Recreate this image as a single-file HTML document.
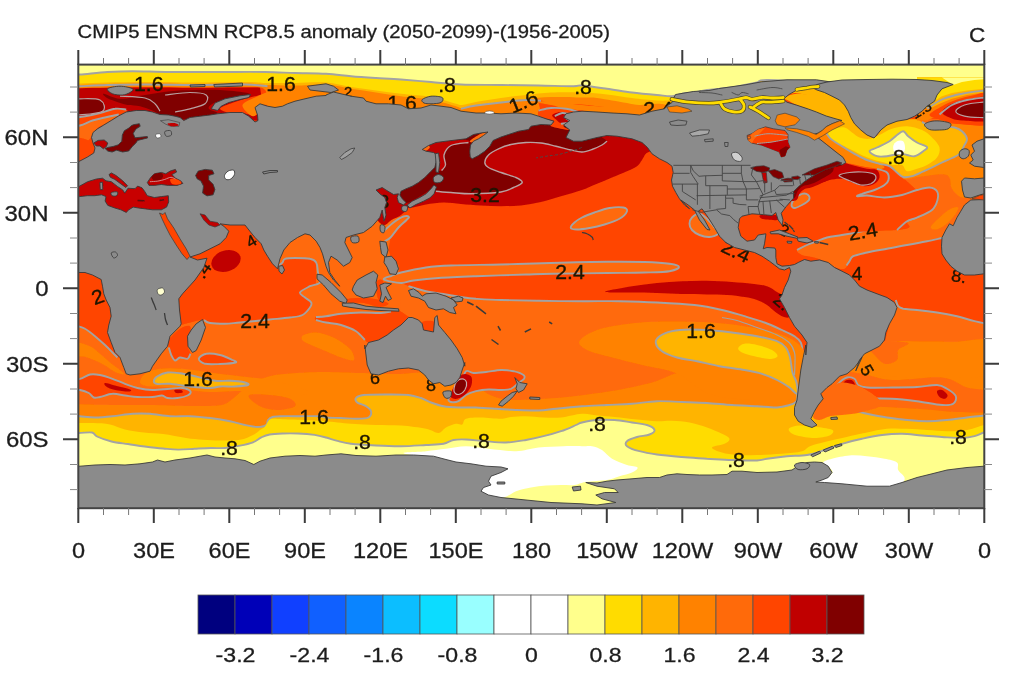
<!DOCTYPE html>
<html><head><meta charset="utf-8"><title>CMIP5 anomaly</title>
<style>html,body{margin:0;padding:0;background:#fff}svg{display:block}</style></head>
<body><svg width="1023" height="683" viewBox="0 0 1023 683">
<rect width="1023" height="683" fill="#fff"/>
<defs><filter id="bl" x="0" y="0" width="1023" height="683" filterUnits="userSpaceOnUse"><feGaussianBlur stdDeviation="0.55"/></filter><filter id="bt" x="0" y="0" width="1023" height="683" filterUnits="userSpaceOnUse"><feGaussianBlur stdDeviation="0.35"/></filter><clipPath id="mc"><rect x="78" y="65" width="906" height="443"/></clipPath></defs>
<g clip-path="url(#mc)"><g filter="url(#bl)"><rect x="70" y="60" width="920" height="455" fill="#ff4500"/>
<path d="M895.8 300 L898.2 306.2 L903.2 308.8 L917 310 L937 312.5 L957 316.2 L974.5 321.2 L992 325 L995 515 L880 515 L880 360Z" fill="#ff6a0a"/>
<path d="M70 325C71.3 325.2 75.5 325.6 78 326.2C80.5 326.9 82.2 327.1 85 328.8C87.8 330.4 91.7 333.5 95 336.2C98.3 339 102.1 342.3 105 345C107.9 347.7 110.4 350.4 112.5 352.5C114.6 354.6 116.7 356.7 117.5 357.5L155 360 L155 515 L60 515Z" fill="#ff6a0a"/>
<path d="M181.2 325C183.5 324.4 191.2 322.1 195 321.2C198.8 320.4 201.2 319.7 203.8 320C206.2 320.3 206.5 322.4 210 323C213.5 323.6 220 323.8 225 323.8C230 323.7 232.5 323.2 240 322.5C247.5 321.8 261.7 320.3 270 319.5C278.3 318.7 284.6 318.2 290 317.5C295.4 316.8 299.2 316.7 302.5 315C305.8 313.3 308.5 309.6 310 307.5C311.5 305.4 312.1 304.2 311.2 302.5C310.4 300.8 306.9 299.2 305 297.5C303.1 295.8 299.2 294.4 300 292.5C300.8 290.6 306.7 287.9 310 286.2C313.3 284.6 318.7 284.8 320 282.5C321.3 280.2 318.6 275.8 318 272.5C317.4 269.2 317.6 264.8 316.2 262.5C314.9 260.2 313.5 259.5 310 258.8C306.5 258 299.2 258 295 258C290.8 258 287.1 258 285 258.8C282.9 259.5 283.5 261.4 282.5 262.5C281.5 263.6 279.4 265 278.8 265.5L280 225 L340 225 L345 250 L380 285 L405 300 L405 515 L150 515 L150 340Z" fill="#ff6a0a"/>
<path d="M316 215 L376 217.5 L408.5 217 L406.5 220 L398.5 227.5 L390.5 237.5 L388.5 250 L391.5 258.8 L398.5 265 L400 275 L386 279.5 L401 283 L408.5 286.2 L426 291.2 L446 294.5 L461 297 L461 317.5 L316 317.5Z" fill="#ff6a0a"/>
<path d="M384.8 241.2C385.7 240.6 388.2 239.8 390.5 237.5C392.8 235.2 395.8 230.4 398.5 227.5C401.2 224.6 404.8 221.8 406.5 220C408.2 218.2 409.5 217.6 409 217C408.5 216.4 406.1 215.6 403.5 216.5C400.9 217.4 396.8 220 393.5 222.5C390.2 225 385.2 229.8 383.5 231.2" fill="none" stroke="#a3a3a3" stroke-width="1.9" stroke-linejoin="round"/>
<path d="M401 282.5C402.2 283.1 404.3 284.8 408.5 286.2C412.7 287.7 419.8 289.9 426 291.2C432.2 292.6 440.2 293.5 446 294.5C451.8 295.5 456 296.3 461 297C466 297.7 469.3 298.2 476 298.8C482.7 299.2 490.6 299.7 501 300C511.4 300.3 525 300.5 538.5 300.8C552 301 568.5 301.2 582 301.2C595.5 301.3 607 301 619.5 301.2C632 301.5 644.5 301.9 657 302.5C669.5 303.1 683.7 303.8 694.5 305C705.3 306.2 713.7 308.1 722 310C730.3 311.9 737.4 314.2 744.5 316.2C751.6 318.3 758.2 320.2 764.5 322.5C770.8 324.8 777 327.7 782 330C787 332.3 791.4 334.2 794.5 336.2C797.6 338.3 799.4 339.8 800.8 342.5C802.1 345.2 802.4 349.2 802.5 352.5C802.6 355.8 801.6 358.8 801.5 362.5C801.4 366.2 801.9 372.9 802 375L830 515 L400 515Z" fill="#ff6a0a"/>
<path d="M408.5 286.2C411.4 287.1 419.8 289.9 426 291.2C432.2 292.6 440.2 293.5 446 294.5C451.8 295.5 456 296.3 461 297C466 297.7 469.3 298.2 476 298.8C482.7 299.2 490.6 299.7 501 300C511.4 300.3 525 300.5 538.5 300.8C552 301 568.5 301.2 582 301.2C595.5 301.3 607 301 619.5 301.2C632 301.5 644.5 301.9 657 302.5C669.5 303.1 683.7 303.8 694.5 305C705.3 306.2 713.7 308.1 722 310C730.3 311.9 737.4 314.2 744.5 316.2C751.6 318.3 758.2 320.2 764.5 322.5C770.8 324.8 777 327.7 782 330C787 332.3 791.4 334.2 794.5 336.2C797.6 338.3 799.4 339.8 800.8 342.5C802.1 345.2 802.4 349.2 802.5 352.5C802.6 355.8 801.6 358.8 801.5 362.5C801.4 366.2 801.9 372.9 802 375" fill="none" stroke="#a3a3a3" stroke-width="1.9" stroke-linejoin="round"/>
<path d="M203.8 320C204.8 320.5 206.5 322.4 210 323C213.5 323.6 220 323.8 225 323.8C230 323.7 232.5 323.2 240 322.5C247.5 321.8 261.7 320.3 270 319.5C278.3 318.7 284.6 318.2 290 317.5C295.4 316.8 299.2 316.7 302.5 315C305.8 313.3 308.5 309.6 310 307.5C311.5 305.4 312.1 304.2 311.2 302.5C310.4 300.8 306.9 299.2 305 297.5C303.1 295.8 299.2 294.4 300 292.5C300.8 290.6 306.7 287.9 310 286.2C313.3 284.6 318.7 284.8 320 282.5C321.3 280.2 318.6 275.8 318 272.5C317.4 269.2 317.6 264.8 316.2 262.5C314.9 260.2 313.5 259.5 310 258.8C306.5 258 299.2 258 295 258C290.8 258 287.1 258 285 258.8C282.9 259.5 283.5 261.4 282.5 262.5C281.5 263.6 279.4 265 278.8 265.5" fill="none" stroke="#a3a3a3" stroke-width="1.9" stroke-linejoin="round"/>
<path d="M895.8 300C896.2 301 897 304.8 898.2 306.2C899.5 307.7 900.1 308.1 903.2 308.8C906.4 309.4 911.4 309.4 917 310C922.6 310.6 930.3 311.5 937 312.5C943.7 313.5 950.8 314.8 957 316.2C963.2 317.7 968.7 319.8 974.5 321.2C980.3 322.7 989.1 324.4 992 325" fill="none" stroke="#a3a3a3" stroke-width="1.9" stroke-linejoin="round"/>
<path d="M70 325C71.3 325.2 75.5 325.6 78 326.2C80.5 326.9 82.2 327.1 85 328.8C87.8 330.4 91.7 333.5 95 336.2C98.3 339 102.1 342.3 105 345C107.9 347.7 110.4 350.4 112.5 352.5C114.6 354.6 116.7 356.7 117.5 357.5" fill="none" stroke="#a3a3a3" stroke-width="1.9" stroke-linejoin="round"/>
<path d="M384 279.5C382.4 278.3 388.7 276.9 391.5 275.8C394.3 274.6 395.2 273.9 401 272.5C406.8 271.1 417.7 268.7 426 267.5C434.3 266.3 438.5 266 451 265.5C463.5 265 484.3 264.9 501 264.5C517.7 264.1 533.3 263.5 551 263C568.7 262.5 591.4 261.9 607 261.8C622.6 261.6 634.1 261.7 644.5 262C654.9 262.3 663.8 262.9 669.5 263.8C675.2 264.6 679 265.8 679 267C679 268.2 675.2 270.3 669.5 271.2C663.8 272.2 654.9 272.2 644.5 272.5C634.1 272.8 622.4 272.8 607 273C591.6 273.2 565.8 273.5 552.2 273.8C538.8 274 538.7 274.1 526 274.5C513.3 274.9 490.6 275.7 476 276.2C461.4 276.8 448.9 277.3 438.5 278C428.1 278.7 419.8 279.7 413.5 280.5C407.2 281.3 405.9 283.2 401 283C396.1 282.8 385.6 280.7 384 279.5Z" fill="#ff6a0a"/>
<path d="M384 279.5C382.4 278.3 388.7 276.9 391.5 275.8C394.3 274.6 395.2 273.9 401 272.5C406.8 271.1 417.7 268.7 426 267.5C434.3 266.3 438.5 266 451 265.5C463.5 265 484.3 264.9 501 264.5C517.7 264.1 533.3 263.5 551 263C568.7 262.5 591.4 261.9 607 261.8C622.6 261.6 634.1 261.7 644.5 262C654.9 262.3 663.8 262.9 669.5 263.8C675.2 264.6 679 265.8 679 267C679 268.2 675.2 270.3 669.5 271.2C663.8 272.2 654.9 272.2 644.5 272.5C634.1 272.8 622.4 272.8 607 273C591.6 273.2 565.8 273.5 552.2 273.8C538.8 274 538.7 274.1 526 274.5C513.3 274.9 490.6 275.7 476 276.2C461.4 276.8 448.9 277.3 438.5 278C428.1 278.7 419.8 279.7 413.5 280.5C407.2 281.3 405.9 283.2 401 283C396.1 282.8 385.6 280.7 384 279.5Z" fill="none" stroke="#a3a3a3" stroke-width="1.9" stroke-linejoin="round"/>
<path d="M605.8 291.2C608.7 290.2 623.5 287.6 632 286.2C640.5 284.9 648.7 283.8 657 283C665.3 282.2 673.7 281.6 682 281.2C690.3 280.9 698.7 280.6 707 280.8C715.3 280.9 724.5 281.5 732 282C739.5 282.5 746.2 283 752 283.8C757.8 284.5 762.8 284.9 767 286.2C771.2 287.6 774.5 290.5 777 292C779.5 293.5 781.5 293.9 782 295C782.5 296.1 779.6 296.7 780 298.8C780.4 300.8 783 304.5 784.5 307.5C786 310.5 789.4 315.5 789 317C788.6 318.5 784.4 317.2 782 316.2C779.6 315.3 777 313.1 774.5 311.2C772 309.4 769.9 306.9 767 305C764.1 303.1 760.8 301.3 757 300C753.2 298.7 749.5 297.8 744.5 297C739.5 296.2 733.2 295.4 727 295C720.8 294.6 714.5 294.7 707 294.5C699.5 294.3 690.3 294.2 682 294C673.7 293.8 665.3 293.2 657 293C648.7 292.8 639.1 292.6 632 292.5C624.9 292.4 618.9 292.7 614.5 292.5C610.1 292.3 602.8 292.3 605.8 291.2Z" fill="#c00000"/>
<path d="M582 217.5C585.3 215.8 589.9 214.1 594.5 212.5C599.1 210.9 604.7 208.8 609.5 208C614.3 207.2 620.3 207 623.2 207.5C626.2 208 627.6 209.4 627 211.2C626.4 213.1 623.2 216.5 619.5 218.8C615.8 221 609.5 223 604.5 224.5C599.5 226 594.1 227.2 589.5 228C584.9 228.8 580.1 229.5 577 229.5C573.9 229.5 571.2 229.2 570.8 228C570.3 226.8 572.6 224.2 574.5 222.5C576.4 220.8 578.7 219.2 582 217.5Z" fill="#ff6a0a"/>
<path d="M582 217.5C585.3 215.8 589.9 214.1 594.5 212.5C599.1 210.9 604.7 208.8 609.5 208C614.3 207.2 620.3 207 623.2 207.5C626.2 208 627.6 209.4 627 211.2C626.4 213.1 623.2 216.5 619.5 218.8C615.8 221 609.5 223 604.5 224.5C599.5 226 594.1 227.2 589.5 228C584.9 228.8 580.1 229.5 577 229.5C573.9 229.5 571.2 229.2 570.8 228C570.3 226.8 572.6 224.2 574.5 222.5C576.4 220.8 578.7 219.2 582 217.5Z" fill="none" stroke="#a3a3a3" stroke-width="1.9" stroke-linejoin="round"/>
<path d="M689.5 223.8C689.5 221.7 690.3 219.2 692 217.5C693.7 215.8 697 213.5 699.5 213.8C702 214 704.5 216.5 707 218.8C709.5 221 712.6 225 714.5 227.5C716.4 230 719.1 232.2 718.2 233.8C717.4 235.3 712.6 236.8 709.5 237C706.4 237.2 702.4 236.2 699.5 235C696.6 233.8 693.7 231.9 692 230C690.3 228.1 689.5 225.8 689.5 223.8Z" fill="#ff6a0a"/>
<path d="M689.5 223.8C689.5 221.7 690.3 219.2 692 217.5C693.7 215.8 697 213.5 699.5 213.8C702 214 704.5 216.5 707 218.8C709.5 221 712.6 225 714.5 227.5C716.4 230 719.1 232.2 718.2 233.8C717.4 235.3 712.6 236.8 709.5 237C706.4 237.2 702.4 236.2 699.5 235C696.6 233.8 693.7 231.9 692 230C690.3 228.1 689.5 225.8 689.5 223.8Z" fill="none" stroke="#a3a3a3" stroke-width="1.9" stroke-linejoin="round"/>
<path d="M797 250C797.8 248.3 803.7 246.5 807 245C810.3 243.5 813.7 242.5 817 241.2C820.3 240 822.8 238.5 827 237.5C831.2 236.5 836.2 236 842 235C847.8 234 854.9 232.7 862 231.2C869.1 229.8 877.8 227.7 884.5 226.2C891.2 224.8 896.6 224 902 222.5C907.4 221 912.4 219.6 917 217.5C921.6 215.4 926.4 212.5 929.5 210C932.6 207.5 934.3 205.8 935.8 202.5C937.2 199.2 928.9 192.1 938.2 190C947.6 187.9 983 182.1 992 190C1001 197.9 1000.3 229.5 992 237.5C983.7 245.5 952.8 237.4 942 238C931.2 238.6 932.8 240.1 927 241.2C921.2 242.4 913.7 243.8 907 245C900.3 246.2 893.7 247.5 887 248.8C880.3 250 872.6 251.2 867 252.5C861.4 253.8 856.2 254.8 853.2 256.2C850.3 257.7 851 259.2 849.5 261.2C848 263.3 847 267.8 844.5 268.8C842 269.7 837.8 268.2 834.5 267C831.2 265.8 828.2 262.9 824.5 261.2C820.8 259.6 815.8 258 812 257C808.2 256 804.5 256.2 802 255C799.5 253.8 796.2 251.7 797 250Z" fill="#ff6a0a"/>
<path d="M797 250C798.7 249.2 803.7 246.5 807 245C810.3 243.5 813.7 242.5 817 241.2C820.3 240 822.8 238.5 827 237.5C831.2 236.5 836.2 236 842 235C847.8 234 854.9 232.7 862 231.2C869.1 229.8 877.8 227.7 884.5 226.2C891.2 224.8 896.6 224 902 222.5C907.4 221 912.4 219.6 917 217.5C921.6 215.4 926.4 212.5 929.5 210C932.6 207.5 934.3 205.8 935.8 202.5C937.2 199.2 937.8 192.1 938.2 190" fill="none" stroke="#a3a3a3" stroke-width="1.9" stroke-linejoin="round"/>
<path d="M942 238C939.5 238.5 932.8 240.1 927 241.2C921.2 242.4 913.7 243.8 907 245C900.3 246.2 893.7 247.5 887 248.8C880.3 250 872.6 251.2 867 252.5C861.4 253.8 856.2 254.8 853.2 256.2C850.3 257.7 850.6 259.7 849.5 261.2C848.4 262.8 847 264.8 846.5 265.5" fill="none" stroke="#a3a3a3" stroke-width="1.9" stroke-linejoin="round"/>
<path d="M930.8 227C931.2 225 936.2 220.5 939.5 217.5C942.8 214.5 947.6 210.4 950.8 208.8C953.9 207.1 957.6 206.4 958.2 207.5C958.9 208.6 956.6 212.7 954.5 215.5C952.4 218.3 948.8 222.2 945.8 224.5C942.8 226.8 939 229.1 936.5 229.5C934 229.9 930.2 229 930.8 227Z" fill="#ff8200"/>
<ellipse cx="226" cy="261" rx="15" ry="10.5" transform="rotate(-18 226 261)" fill="#c00000"/>
<path d="M168.8 340C170.6 336.9 176.5 331 180 328.8C183.5 326.5 188.3 325 190 326.2C191.7 327.5 190.3 332.9 190 336.2C189.7 339.6 187.9 343.3 188 346.2C188.1 349.2 190.6 351.7 190.5 353.8C190.4 355.8 189.2 358.1 187.5 358.8C185.8 359.4 182.1 357.2 180 357.5C177.9 357.8 176.5 360.9 175 360.5C173.5 360.1 172.3 357.2 171.2 355C170.2 352.8 169.2 350 168.8 347.5C168.3 345 166.9 343.1 168.8 340Z" fill="#ff4500"/>
<path d="M190.5 353.8C190 354.6 189.2 358.1 187.5 358.8C185.8 359.4 182.1 357.2 180 357.5C177.9 357.8 176.5 360.9 175 360.5C173.5 360.1 172.3 357.2 171.2 355C170.2 352.8 169.2 348.8 168.8 347.5" fill="none" stroke="#a3a3a3" stroke-width="1.9" stroke-linejoin="round"/>
<path d="M198.8 358.8C199 357.1 202.7 354.4 206.2 353.8C209.8 353.1 215.6 354 220 355C224.4 356 229.9 358.8 232.5 360C235.1 361.2 237.6 361.8 235.5 362.5C233.4 363.2 225.1 363.8 220 364C214.9 364.2 208.5 364.6 205 363.8C201.5 362.9 198.5 360.4 198.8 358.8Z" fill="#ff4500"/>
<path d="M198.8 358.8C199 357.1 202.7 354.4 206.2 353.8C209.8 353.1 215.6 354 220 355C224.4 356 229.9 358.8 232.5 360C235.1 361.2 237.6 361.8 235.5 362.5C233.4 363.2 225.1 363.8 220 364C214.9 364.2 208.5 364.6 205 363.8C201.5 362.9 198.5 360.4 198.8 358.8Z" fill="none" stroke="#a3a3a3" stroke-width="1.9" stroke-linejoin="round"/>
<path d="M316 317C317.7 316.4 321.8 316.8 326 316.2C330.2 315.7 335.2 314.4 341 313.8C346.8 313.1 354.3 312.6 361 312.5C367.7 312.4 375.2 313.4 381 313C386.8 312.6 391.8 309.7 396 310C400.2 310.3 403.7 313.4 406 315C408.3 316.6 410.6 317.6 409.8 319.5C408.9 321.4 403.7 324.3 401 326.2C398.3 328.2 395.8 329.6 393.5 331.2C391.2 332.9 389.8 334.7 387.2 336.2C384.8 337.8 381.6 339.5 378.5 340.5C375.4 341.5 370.8 342.7 368.5 342.5C366.2 342.3 366.8 341.4 364.8 339.5C362.7 337.6 360 333.7 356 331.2C352 328.8 346 326.5 341 325C336 323.5 330.2 323.3 326 322.5C321.8 321.7 317.7 320.9 316 320C314.3 319.1 314.3 317.6 316 317Z" fill="#ff4500"/>
<path d="M316 317C317.7 316.9 321.8 316.8 326 316.2C330.2 315.7 335.2 314.4 341 313.8C346.8 313.1 354.3 312.6 361 312.5C367.7 312.4 376 313.2 381 313C386 312.8 389.3 311.8 391 311.5" fill="none" stroke="#a3a3a3" stroke-width="1.9" stroke-linejoin="round"/>
<path d="M316 320C317.7 320.4 321.8 321.7 326 322.5C330.2 323.3 336 323.5 341 325C346 326.5 352 328.8 356 331.2C360 333.8 363.3 338.5 364.8 340" fill="none" stroke="#a3a3a3" stroke-width="1.9" stroke-linejoin="round"/>
<path d="M422.2 322C424.3 320.5 432.8 320.3 434.8 322C436.7 323.7 436.1 330.5 434 332C431.9 333.5 424.2 332.9 422.2 331.2C420.3 329.6 420.2 323.5 422.2 322Z" fill="#ff4500"/>
<path d="M347.2 298.8C350.2 298 360.6 297.8 366 298C371.4 298.2 376 299 379.8 300C383.5 301 388.5 302.6 388.5 303.8C388.5 304.9 383.9 307.1 379.8 307C375.6 306.9 368.7 303.8 363.5 303C358.3 302.2 351.2 303.2 348.5 302.5C345.8 301.8 344.3 299.5 347.2 298.8Z" fill="#ff4500"/>
<path d="M376 282.5C376.7 279.4 380.7 278.8 382.2 280C383.8 281.2 385.2 286.7 385.5 290C385.8 293.3 385.2 298.5 384 300C382.8 301.5 379.3 301.7 378 298.8C376.7 295.8 375.3 285.6 376 282.5Z" fill="#ff4500"/>
<path d="M303.5 335C305.8 333.8 311 332.1 316 332.5C321 332.9 328.1 335 333.5 337.5C338.9 340 345.2 344.6 348.5 347.5C351.8 350.4 352.8 352.8 353.5 355C354.2 357.2 355.1 360.1 353 360.5C350.9 360.9 345.5 359 341 357.5C336.5 356 331 353.3 326 351.2C321 349.2 315 346.9 311 345C307 343.1 303.5 341.7 302.2 340C301 338.3 301.2 336.2 303.5 335Z" fill="#ff8200"/>
<path d="M60 404C66.7 404.1 98 404.9 110 405C122 405.1 139.3 404.9 150 405C160.7 405.1 180.4 406 190 406C199.6 406 215.9 406.3 222 405C228.1 403.7 232.3 398.8 236 396C239.7 393.2 244.8 386.8 250 384C255.2 381.2 265.7 376.6 275 375C284.3 373.4 308.7 372.3 320 372C331.3 371.7 349.3 372.7 360 373C370.7 373.3 389.3 374.1 400 374C410.7 373.9 430 370.5 440 372C450 373.5 468.3 381.9 475 385C481.7 388.1 485.1 393 490 395C494.9 397 502.4 399.7 512 400C521.6 400.3 548.7 398.7 562 397.5C575.3 396.3 600 393 612 391C624 389 643.3 384.9 652 382.5C660.7 380.1 670.6 374.5 677 373C683.4 371.5 690.3 370.9 700 371C709.7 371.1 736.7 372.8 750 374C763.3 375.2 792.3 376.5 800 380C807.7 383.5 806 396.7 808 400C810 403.3 812.1 405 815 405C817.9 405 827.2 407.1 830 400C832.8 392.9 829.3 359.7 836 352C842.7 344.3 859.5 343.3 880 342C900.5 340.7 975.3 342 990 342L990 515 L60 515 Z" fill="#ff8200"/>
<path d="M75 342.5C77.5 341 85.8 344.4 90 346.2C94.2 348.1 96.7 351 100 353.8C103.3 356.5 106.7 359.8 110 362.5C113.3 365.2 117.6 368 120 370C122.4 372 125.3 374.2 124.5 374.5C123.7 374.8 118.2 373.5 115 372C111.8 370.5 108.3 367.4 105 365.5C101.7 363.6 98.3 362 95 360.5C91.7 359 88.3 357.7 85 356.8C81.7 355.8 76.7 357.4 75 355C73.3 352.6 72.5 344 75 342.5Z" fill="#ff8200"/>
<path d="M140 382.5C139.6 380.4 141.7 376 145 373.8C148.3 371.5 153.8 369.6 160 368.8C166.2 367.9 174.2 368.1 182.5 368.8C190.8 369.4 200.4 371.2 210 372.5C219.6 373.8 230 375 240 376.2C250 377.5 260.8 378.3 270 380C279.2 381.7 288.3 384.2 295 386.2C301.7 388.3 310 391 310 392.5C310 394 301.7 395.5 295 395.5C288.3 395.5 277.5 393.2 270 392.5C262.5 391.8 256.7 391.5 250 391.2C243.3 391 236.7 391.1 230 391.2C223.3 391.4 217.1 392.2 210 392C202.9 391.8 195 390.8 187.5 390C180 389.2 171.7 387.6 165 387C158.3 386.4 151.7 387 147.5 386.2C143.3 385.5 140.4 384.6 140 382.5Z" fill="#ff8200"/>
<path d="M897 343C898.9 340.7 901.6 341.3 907 341.2C912.4 341.2 921.6 342.4 929.5 342.5C937.4 342.6 944.1 342.2 954.5 342C964.9 341.8 985.8 335.8 992 341.2C998.2 346.8 1012.8 369.4 992 375C971.2 380.6 886.8 376.9 867 375C847.2 373.1 869.9 366.2 873.2 363.8C876.6 361.2 883.2 361.5 887 360C890.8 358.5 894.1 357.8 895.8 355C897.4 352.2 895.1 345.3 897 343Z" fill="#ff8200"/>
<path d="M862 342.5C856.2 344.2 868.2 349 872 352.5C875.8 356 880.3 362.5 884.5 363.8C888.7 365 894.7 362.3 897 360C899.3 357.7 896.6 352.9 898.2 350C899.9 347.1 913 343.8 907 342.5C901 341.2 867.8 340.8 862 342.5Z" fill="#ff6a0a"/>
<path d="M579.5 341C581.2 337.7 589.1 332.8 597 330C604.9 327.2 616.2 325.4 627 324C637.8 322.6 647.8 321.8 662 321.5C676.2 321.2 697 321.5 712 322.5C727 323.5 740.3 325.4 752 327.5C763.7 329.6 774.1 332.1 782 335C789.9 337.9 795.3 340.8 799.5 345C803.7 349.2 806.2 354.2 807 360C807.8 365.8 805.8 373.8 804.5 380C803.2 386.2 804.9 394.2 799.5 397.5C794.1 400.8 782.4 399.8 772 400C761.6 400.2 747.8 400.2 737 399C726.2 397.8 717 397.2 707 393C697 388.8 687.8 378.2 677 373.5C666.2 368.8 652.8 367.7 642 365C631.2 362.3 621.2 360 612 357.5C602.8 355 592.4 352.8 587 350C581.6 347.2 577.8 344.3 579.5 341Z" fill="#ff8200"/>
<path d="M722 317.5C724.5 318 731.2 318.8 737 320.5C742.8 322.2 750.3 325.1 757 327.5C763.7 329.9 771.6 332.4 777 335C782.4 337.6 786.6 340.1 789.5 343C792.4 345.9 793.6 349.2 794.5 352.5C795.4 355.8 795 358.8 795 362.5C795 366.2 794.6 372.9 794.5 375" fill="none" stroke="#a3a3a3" stroke-width="1.2" stroke-linejoin="round"/>
<path d="M67.5 415.5C69.6 415.6 75.4 415.9 80 416.2C84.6 416.6 89.6 417.5 95 417.5C100.4 417.5 106.2 416.9 112.5 416.2C118.8 415.6 126.2 414.2 132.5 413.8C138.8 413.3 143.8 413.3 150 413.8C156.2 414.2 163.3 415.8 170 416.2C176.7 416.7 183.3 416 190 416.2C196.7 416.5 203.3 417.2 210 418C216.7 418.8 224.2 420.1 230 421.2C235.8 422.4 240.4 424 245 425C249.6 426 254 427 257.5 427C261 427 264.5 426.2 266.2 425C268 423.8 267 421.3 268 420C269 418.7 270.1 417.6 272.5 417C274.9 416.4 277.9 416.4 282.5 416.2C287.1 416.1 293.8 416.2 300 416.2C306.2 416.2 315.7 416 320 416.2C324.3 416.5 322.5 417.2 326 417.5C329.5 417.8 336 417.8 341 418C346 418.2 351.4 418.8 356 418.8C360.6 418.7 366 418.8 368.5 417.5C371 416.2 371.4 413.1 371 411.2C370.6 409.4 368.3 407.7 366 406.2C363.7 404.8 358.9 403.9 357.2 402.5C355.6 401.1 355 399.2 356 398C357 396.8 358.1 395.6 363.5 395C368.9 394.4 381 394.5 388.5 394.5C396 394.5 403.1 394.4 408.5 395C413.9 395.6 417.2 396.8 421 398C424.8 399.2 427.2 401.1 431 402.5C434.8 403.9 438.9 405.4 443.5 406.2C448.1 407.1 453.1 407.3 458.5 407.5C463.9 407.7 469.8 407.3 476 407.5C482.2 407.7 489.3 408.3 496 408.8C502.7 409.2 508.9 409.7 516 410C523.1 410.3 531.8 410.7 538.5 410.5C545.2 410.3 548.8 409.5 556 408.8C563.2 408 573.5 406.9 582 406.2C590.5 405.6 598.7 405.4 607 405C615.3 404.6 623.7 404.4 632 403.8C640.3 403.1 648.7 401.5 657 401.2C665.3 401 673.7 401.7 682 402C690.3 402.3 698.7 402.5 707 403C715.3 403.5 723.7 404.5 732 405C740.3 405.5 749.5 405.8 757 406.2C764.5 406.7 771.6 407.7 777 407.5C782.4 407.3 786.2 406 789.5 405C792.8 404 795.2 403.3 796.5 401.2C797.8 399.2 794.9 392.7 797.5 392.5C800.1 392.3 809.2 396.8 812 400C814.8 403.2 812.4 409.3 814.5 412C816.6 414.7 821 415.8 824.5 416.2C828 416.7 833.2 415.8 835.8 414.5C838.2 413.2 837.2 409.6 839.5 408.8C841.8 407.9 844.9 408.7 849.5 409.5C854.1 410.3 860.8 412.4 867 413.8C873.2 415.1 880.3 416.5 887 417.5C893.7 418.5 900.3 419.4 907 420C913.7 420.6 920.3 421.2 927 421.2C933.7 421.2 940.3 420.6 947 420C953.7 419.4 960.8 418.2 967 417.5C973.2 416.8 979.8 415.9 984 415.5C988.2 415.1 990.7 415.1 992 415L992 515 L67.5 515 Z" fill="#ffb400"/>
<path d="M67.5 415.5C69.6 415.6 75.4 415.9 80 416.2C84.6 416.6 89.6 417.5 95 417.5C100.4 417.5 106.2 416.9 112.5 416.2C118.8 415.6 126.2 414.2 132.5 413.8C138.8 413.3 143.8 413.3 150 413.8C156.2 414.2 163.3 415.8 170 416.2C176.7 416.7 183.3 416 190 416.2C196.7 416.5 203.3 417.2 210 418C216.7 418.8 224.2 420.1 230 421.2C235.8 422.4 240.4 424 245 425C249.6 426 254 427 257.5 427C261 427 264.5 426.2 266.2 425C268 423.8 267 421.3 268 420C269 418.7 270.1 417.6 272.5 417C274.9 416.4 277.9 416.4 282.5 416.2C287.1 416.1 293.8 416.2 300 416.2C306.2 416.2 315.7 416 320 416.2C324.3 416.5 322.5 417.2 326 417.5C329.5 417.8 336 417.8 341 418C346 418.2 351.4 418.8 356 418.8C360.6 418.7 366 418.8 368.5 417.5C371 416.2 371.4 413.1 371 411.2C370.6 409.4 368.3 407.7 366 406.2C363.7 404.8 358.9 403.9 357.2 402.5C355.6 401.1 355 399.2 356 398C357 396.8 358.1 395.6 363.5 395C368.9 394.4 381 394.5 388.5 394.5C396 394.5 403.1 394.4 408.5 395C413.9 395.6 417.2 396.8 421 398C424.8 399.2 427.2 401.1 431 402.5C434.8 403.9 438.9 405.4 443.5 406.2C448.1 407.1 453.1 407.3 458.5 407.5C463.9 407.7 469.8 407.3 476 407.5C482.2 407.7 489.3 408.3 496 408.8C502.7 409.2 508.9 409.7 516 410C523.1 410.3 531.8 410.7 538.5 410.5C545.2 410.3 548.8 409.5 556 408.8C563.2 408 573.5 406.9 582 406.2C590.5 405.6 598.7 405.4 607 405C615.3 404.6 623.7 404.4 632 403.8C640.3 403.1 648.7 401.5 657 401.2C665.3 401 673.7 401.7 682 402C690.3 402.3 698.7 402.5 707 403C715.3 403.5 723.7 404.5 732 405C740.3 405.5 749.5 405.8 757 406.2C764.5 406.7 771.6 407.7 777 407.5C782.4 407.3 786.2 406 789.5 405C792.8 404 795.2 403.3 796.5 401.2C797.8 399.2 797.3 394 797.5 392.5" fill="none" stroke="#a3a3a3" stroke-width="1.9" stroke-linejoin="round"/>
<path d="M835.8 414.5C836.4 413.5 837.2 409.6 839.5 408.8C841.8 407.9 844.9 408.7 849.5 409.5C854.1 410.3 860.8 412.4 867 413.8C873.2 415.1 880.3 416.5 887 417.5C893.7 418.5 900.3 419.4 907 420C913.7 420.6 920.3 421.2 927 421.2C933.7 421.2 940.3 420.6 947 420C953.7 419.4 960.8 418.2 967 417.5C973.2 416.8 979.8 415.9 984 415.5C988.2 415.1 990.7 415.1 992 415" fill="none" stroke="#a3a3a3" stroke-width="1.9" stroke-linejoin="round"/>
<path d="M655.8 343C655.3 340.5 656.8 338.2 659.5 336.2C662.2 334.3 667 332.4 672 331.2C677 330.1 682.8 329.6 689.5 329.5C696.2 329.4 704.9 330 712 330.5C719.1 331 724.5 331.5 732 332.5C739.5 333.5 749.5 334.8 757 336.2C764.5 337.7 772.2 339.4 777 341.2C781.8 343.1 783.6 344.8 785.8 347.5C787.9 350.2 788.9 353.3 790 357.5C791.1 361.7 791.4 368.3 792.5 372.5C793.6 376.7 795.8 379 796.5 382.5C797.2 386 798.2 392.9 797 393.8C795.8 394.6 792.8 389.8 789.5 387.5C786.2 385.2 781.6 382.3 777 380C772.4 377.7 767.4 375.4 762 373.8C756.6 372.1 751.6 371.2 744.5 370C737.4 368.8 727.4 367.7 719.5 366.2C711.6 364.8 704.1 362.7 697 361.2C689.9 359.8 682.8 359.2 677 357.5C671.2 355.8 665.5 353.7 662 351.2C658.5 348.8 656.2 345.5 655.8 343Z" fill="#ffb400"/>
<path d="M655.8 343C655.3 340.5 656.8 338.2 659.5 336.2C662.2 334.3 667 332.4 672 331.2C677 330.1 682.8 329.6 689.5 329.5C696.2 329.4 704.9 330 712 330.5C719.1 331 724.5 331.5 732 332.5C739.5 333.5 749.5 334.8 757 336.2C764.5 337.7 772.2 339.4 777 341.2C781.8 343.1 783.6 344.8 785.8 347.5C787.9 350.2 788.9 353.3 790 357.5C791.1 361.7 791.4 368.3 792.5 372.5C793.6 376.7 795.8 379 796.5 382.5C797.2 386 798.2 392.9 797 393.8C795.8 394.6 792.8 389.8 789.5 387.5C786.2 385.2 781.6 382.3 777 380C772.4 377.7 767.4 375.4 762 373.8C756.6 372.1 751.6 371.2 744.5 370C737.4 368.8 727.4 367.7 719.5 366.2C711.6 364.8 704.1 362.7 697 361.2C689.9 359.8 682.8 359.2 677 357.5C671.2 355.8 665.5 353.7 662 351.2C658.5 348.8 656.2 345.5 655.8 343Z" fill="none" stroke="#a3a3a3" stroke-width="1.9" stroke-linejoin="round"/>
<path d="M738.2 348C738.7 346.5 741.4 344.2 744.5 343.8C747.6 343.2 752.4 344 757 345C761.6 346 768.6 348.1 772 350C775.4 351.9 777.9 354.8 777.5 356.2C777.1 357.8 773.3 359 769.5 359C765.7 359 759.1 357.3 754.5 356.2C749.9 355.2 744.7 353.9 742 352.5C739.3 351.1 737.8 349.5 738.2 348Z" fill="#ffdc00"/>
<path d="M153.8 381.2C153.8 380 155.2 377.7 157.5 376.2C159.8 374.8 163.8 373 167.5 372.5C171.2 372 175.4 372.6 180 373.2C184.6 373.9 189.2 375 195 376.2C200.8 377.5 209.2 380 215 380.8C220.8 381.5 225 380.5 230 380.8C235 381 242 381.8 245 382.5C248 383.2 249.7 384.3 248 385C246.3 385.7 239.7 386.2 235 386.5C230.3 386.8 224.2 386.2 220 386.5C215.8 386.8 215.4 388 210 388C204.6 388 194.2 387 187.5 386.2C180.8 385.5 175 384.1 170 383.8C165 383.4 160.2 384.4 157.5 384C154.8 383.6 153.8 382.5 153.8 381.2Z" fill="#ffb400"/>
<path d="M153.8 381.2C153.8 380 155.2 377.7 157.5 376.2C159.8 374.8 163.8 373 167.5 372.5C171.2 372 175.4 372.6 180 373.2C184.6 373.9 189.2 375 195 376.2C200.8 377.5 209.2 380 215 380.8C220.8 381.5 225 380.5 230 380.8C235 381 242 381.8 245 382.5C248 383.2 249.7 384.3 248 385C246.3 385.7 239.7 386.2 235 386.5C230.3 386.8 224.2 386.2 220 386.5C215.8 386.8 215.4 388 210 388C204.6 388 194.2 387 187.5 386.2C180.8 385.5 175 384.1 170 383.8C165 383.4 160.2 384.4 157.5 384C154.8 383.6 153.8 382.5 153.8 381.2Z" fill="none" stroke="#a3a3a3" stroke-width="1.9" stroke-linejoin="round"/>
<path d="M67.5 380C69.6 378.3 76.2 379.7 80 378.8C83.8 377.8 86.7 375.1 90 374.5C93.3 373.9 96.2 374.3 100 375C103.8 375.7 108.3 377.3 112.5 378.8C116.7 380.2 120.8 382.2 125 383.8C129.2 385.3 132.9 387 137.5 388C142.1 389 147.1 389.9 152.5 390C157.9 390.1 165 389.1 170 388.8C175 388.4 179.1 387.5 182.5 388C185.9 388.5 189.7 390.2 190.5 391.5C191.3 392.8 189.7 394.4 187.5 395.5C185.3 396.6 180.8 397.6 177.5 398C174.2 398.4 170.1 398.4 167.5 398C164.9 397.6 164.5 395.7 162 395.5C159.5 395.3 156.6 396.8 152.5 397C148.4 397.2 142.1 397.2 137.5 397C132.9 396.8 129.2 396 125 395.5C120.8 395 116.7 393.5 112.5 393.8C108.3 394 103.1 396.4 100 397C96.9 397.6 95.6 398.2 93.8 397.5C91.9 396.8 91 394.2 88.8 393C86.5 391.8 83.5 390.7 80 390C76.5 389.3 69.6 390.4 67.5 388.8C65.4 387.1 65.4 381.7 67.5 380Z" fill="#ff4500"/>
<path d="M67.5 380C69.6 378.3 76.2 379.7 80 378.8C83.8 377.8 86.7 375.1 90 374.5C93.3 373.9 96.2 374.3 100 375C103.8 375.7 108.3 377.3 112.5 378.8C116.7 380.2 120.8 382.2 125 383.8C129.2 385.3 132.9 387 137.5 388C142.1 389 147.1 389.9 152.5 390C157.9 390.1 165 389.1 170 388.8C175 388.4 179.1 387.5 182.5 388C185.9 388.5 189.7 390.2 190.5 391.5C191.3 392.8 189.7 394.4 187.5 395.5C185.3 396.6 180.8 397.6 177.5 398C174.2 398.4 170.1 398.4 167.5 398C164.9 397.6 164.5 395.7 162 395.5C159.5 395.3 156.6 396.8 152.5 397C148.4 397.2 142.1 397.2 137.5 397C132.9 396.8 129.2 396 125 395.5C120.8 395 116.7 393.5 112.5 393.8C108.3 394 103.1 396.4 100 397C96.9 397.6 95.6 398.2 93.8 397.5C91.9 396.8 91 394.2 88.8 393C86.5 391.8 83.5 390.7 80 390C76.5 389.3 69.6 390.4 67.5 388.8C65.4 387.1 65.4 381.7 67.5 380Z" fill="none" stroke="#a3a3a3" stroke-width="1.9" stroke-linejoin="round"/>
<path d="M105 383C106.5 382.8 110.8 384.4 115 385.5C119.2 386.6 127.7 388.5 130 389.5C132.3 390.5 131.2 391.4 128.8 391.5C126.2 391.6 118.8 390.8 115 390C111.2 389.2 107.9 387.7 106.2 386.5C104.6 385.3 103.5 383.2 105 383Z" fill="#c00000"/>
<path d="M174.5 390C175.3 389.5 179.9 389.6 181.2 390C182.6 390.4 183.3 392 182.5 392.5C181.7 393 177.6 393.4 176.2 393C174.9 392.6 173.7 390.5 174.5 390Z" fill="#c00000"/>
<path d="M190 395.5C192.3 394.2 199.6 393.6 205 393.8C210.4 393.9 220 394.6 222.5 396.2C225 397.9 223.8 402.3 220 403.8C216.2 405.2 204.8 405.4 200 405C195.2 404.6 192.9 402.8 191.2 401.2C189.6 399.7 187.7 396.8 190 395.5Z" fill="#ff6a0a"/>
<path d="M248.8 395.5C250.4 393.6 263.1 394.5 270 395C276.9 395.5 285.8 396.9 290 398.8C294.2 400.6 297.1 404.4 295 406.2C292.9 408.1 283.3 410 277.5 410C271.7 410 264.8 408.7 260 406.2C255.2 403.8 247.1 397.4 248.8 395.5Z" fill="#ff6a0a"/>
<path d="M448.5 398.8C448.9 397.2 451.4 395.2 453.5 392.5C455.6 389.8 458.9 386 461 382.5C463.1 379 463.9 372.8 466 371.2C468.1 369.7 470.2 372.9 473.5 373C476.8 373.1 481.4 372.5 486 372C490.6 371.5 496.4 370.1 501 370C505.6 369.9 509.8 370.4 513.5 371.2C517.2 372.1 521.8 373.8 523.5 375C525.2 376.2 524.8 377.4 524 378.8C523.2 380.1 520.7 381.3 518.5 383C516.3 384.7 513.9 387.6 511 388.8C508.1 389.9 504.8 389.9 501 390C497.2 390.1 492.7 389.3 488.5 389.5C484.3 389.7 479.8 390.3 476 391.2C472.2 392.2 468.9 393.3 466 395C463.1 396.7 461 400.1 458.5 401.2C456 402.4 452.7 402.4 451 402C449.3 401.6 448.1 400.3 448.5 398.8Z" fill="#ff4500"/>
<path d="M448.5 398.8C448.9 397.2 451.4 395.2 453.5 392.5C455.6 389.8 458.9 386 461 382.5C463.1 379 463.9 372.8 466 371.2C468.1 369.7 470.2 372.9 473.5 373C476.8 373.1 481.4 372.5 486 372C490.6 371.5 496.4 370.1 501 370C505.6 369.9 509.8 370.4 513.5 371.2C517.2 372.1 521.8 373.8 523.5 375C525.2 376.2 524.8 377.4 524 378.8C523.2 380.1 520.7 381.3 518.5 383C516.3 384.7 513.9 387.6 511 388.8C508.1 389.9 504.8 389.9 501 390C497.2 390.1 492.7 389.3 488.5 389.5C484.3 389.7 479.8 390.3 476 391.2C472.2 392.2 468.9 393.3 466 395C463.1 396.7 461 400.1 458.5 401.2C456 402.4 452.7 402.4 451 402C449.3 401.6 448.1 400.3 448.5 398.8Z" fill="none" stroke="#a3a3a3" stroke-width="1.9" stroke-linejoin="round"/>
<path d="M450.5 396.2C450.1 394 452.8 388.6 454.8 385C456.7 381.4 459.5 376 462.2 374.5C465 373 469.5 374.5 471 376.2C472.5 378 472.3 382.1 471.5 385C470.7 387.9 468.4 391.5 466 393.8C463.6 396 459.8 398.3 457.2 398.8C454.7 399.2 450.9 398.5 450.5 396.2Z" fill="#c00000"/>
<path d="M454 391.2C453.6 389.2 454.6 384.6 456 382.5C457.4 380.4 460.5 378.8 462.2 378.8C464 378.8 466.1 380.6 466.5 382.5C466.9 384.4 466.1 388 464.8 390C463.4 392 460.3 394.3 458.5 394.5C456.7 394.7 454.4 393.2 454 391.2Z" fill="#800000"/>
<path d="M454 391.2C453.6 389.2 454.6 384.6 456 382.5C457.4 380.4 460.5 378.8 462.2 378.8C464 378.8 466.1 380.6 466.5 382.5C466.9 384.4 466.1 388 464.8 390C463.4 392 460.3 394.3 458.5 394.5C456.7 394.7 454.4 393.2 454 391.2Z" fill="none" stroke="#c9a9a9" stroke-width="1.2" stroke-linejoin="round"/>
<path d="M817 403.8C817 399.5 820.3 390.2 824.5 385C828.7 379.8 835.8 374.4 842 372.5C848.2 370.6 853.7 372.5 862 373.8C870.3 375 878.7 379.4 892 380C905.3 380.6 929.5 376.2 942 377.5C954.5 378.8 958.7 385 967 387.5C975.3 390 987.8 388.7 992 392.5C996.2 396.3 997.8 407.2 992 410.5C986.2 413.8 969.5 412.3 957 412C944.5 411.7 932 409.7 917 408.8C902 407.8 879.5 406.5 867 406.2C854.5 406 849.1 406.8 842 407.5C834.9 408.2 828.7 411.1 824.5 410.5C820.3 409.9 817 408 817 403.8Z" fill="#ff6a0a"/>
<path d="M834.5 391.2C834.3 388.8 836.2 386 838.2 383.8C840.3 381.5 844.3 378.3 847 377.5C849.7 376.7 852.6 377.5 854.5 378.8C856.4 380 856.2 383.5 858.2 385C860.3 386.5 861.4 387.1 867 387.5C872.6 387.9 883.7 387.6 892 387.5C900.3 387.4 909.5 387.4 917 387C924.5 386.6 932 384.7 937 385C942 385.3 943.9 386.9 947 388.8C950.1 390.6 954.7 393.8 955.8 396.2C956.8 398.8 955.5 402.3 953.2 403.8C951 405.2 948 405.4 942 405C936 404.6 925.3 402.3 917 401.2C908.7 400.2 900.3 399.2 892 398.8C883.7 398.3 874.1 398.5 867 398.8C859.9 399 854.1 400.5 849.5 400.5C844.9 400.5 842 400.3 839.5 398.8C837 397.2 834.7 393.8 834.5 391.2Z" fill="#ff4500"/>
<path d="M834.5 391.2C834.3 388.8 836.2 386 838.2 383.8C840.3 381.5 844.3 378.3 847 377.5C849.7 376.7 852.6 377.5 854.5 378.8C856.4 380 856.2 383.5 858.2 385C860.3 386.5 861.4 387.1 867 387.5C872.6 387.9 883.7 387.6 892 387.5C900.3 387.4 909.5 387.4 917 387C924.5 386.6 932 384.7 937 385C942 385.3 943.9 386.9 947 388.8C950.1 390.6 954.7 393.8 955.8 396.2C956.8 398.8 955.5 402.3 953.2 403.8C951 405.2 948 405.4 942 405C936 404.6 925.3 402.3 917 401.2C908.7 400.2 900.3 399.2 892 398.8C883.7 398.3 874.1 398.5 867 398.8C859.9 399 854.1 400.5 849.5 400.5C844.9 400.5 842 400.3 839.5 398.8C837 397.2 834.7 393.8 834.5 391.2Z" fill="none" stroke="#a3a3a3" stroke-width="1.9" stroke-linejoin="round"/>
<path d="M842 387.5C842 384.8 843.9 381.5 845.8 380.5C847.6 379.5 851.5 379.5 853.2 381.2C855 383 856.5 388.5 856.5 391.2C856.5 394 855 397 853.2 398C851.5 399 847.6 398.8 845.8 397C843.9 395.2 842 390.2 842 387.5Z" fill="#c00000"/>
<path d="M937 391.2C937.4 390.1 940.2 389.4 942 390C943.8 390.6 947 393.5 947.5 395C948 396.5 946.3 398.4 945 398.8C943.7 399.1 940.8 398.2 939.5 397C938.2 395.8 936.6 392.4 937 391.2Z" fill="#c00000"/>
<path d="M813.2 417.5C812.6 415.8 814.7 412.3 815.8 410C816.8 407.7 819 406 819.5 403.8C820 401.5 818 398.3 819 396.2C820 394.2 823.6 392.7 825.8 391.2C827.9 389.8 829.3 389 832 387.5C834.7 386 837 382.5 842 382.5C847 382.5 855.3 384 862 387.5C868.7 391 882 399.7 882 403.8C882 407.8 868.7 410.1 862 412C855.3 413.9 847.4 414.3 842 415C836.6 415.7 833.2 415.4 829.5 416.2C825.8 417.1 822.2 419.8 819.5 420C816.8 420.2 813.9 419.2 813.2 417.5Z" fill="#ff6a0a"/>
<path d="M60 423C63.1 423 72.8 423 78.4 423C84 423 88.1 422.8 93.4 423C98.7 423.2 104.7 423.3 110 424.4C115.3 425.5 119.3 428.1 125 429.5C130.7 430.9 137.7 431.8 144 432.5C150.3 433.2 156 433.1 163 434C170 434.9 179.3 437 186 438C192.7 439 197.3 439.4 203 439.8C208.7 440.2 213.8 440.5 220 440.5C226.2 440.5 234.5 440.7 240 439.8C245.5 438.9 249.7 436.6 253 435C256.3 433.4 258.1 431.4 260 430C261.9 428.6 263.3 428.4 264.7 426.9C266.1 425.4 267.3 422.4 268.5 421C269.7 419.6 269.6 419.1 272 418.8C274.4 418.5 277.3 419 283 419.2C288.7 419.4 299.8 419.7 306 420C312.2 420.3 316.7 420.6 320 420.8C323.3 421 320.8 420.8 326 421.2C331.2 421.7 342.7 423.1 351 423.8C359.3 424.4 367.7 424.7 376 425C384.3 425.3 392.7 424.9 401 425.5C409.3 426.1 419.8 427.5 426 428.8C432.2 430 435.2 433.2 438.5 433C441.8 432.8 443.1 429 446 427.5C448.9 426 453.3 424.2 456 423.8C458.7 423.2 460.6 425.3 462.2 424.5C463.9 423.7 462.9 419.9 466 418.8C469.1 417.6 475.2 417.5 481 417.5C486.8 417.5 496 418.8 501 418.8C506 418.7 506.8 417.4 511 417C515.2 416.6 520.6 416.2 526 416.2C531.4 416.3 537.7 417.3 543.5 417.5C549.3 417.7 554.6 418.1 561 417.5C567.4 416.9 576 414.1 582 413.8C588 413.4 591.6 415 597 415.5C602.4 416 607.8 416.3 614.5 417C621.2 417.7 629.9 418.8 637 419.5C644.1 420.2 651.2 421 657 421.2C662.8 421.5 666.6 420.5 672 420.8C677.4 421 683.7 421.4 689.5 422.5C695.3 423.6 701.6 425.6 707 427.5C712.4 429.4 718.2 431.9 722 433.8C725.8 435.6 729.1 437.1 729.5 438.8C729.9 440.4 727.4 442.3 724.5 443.8C721.6 445.2 712.4 446 712 447.5C711.6 449 717.8 451.2 722 452.5C726.2 453.8 731.2 454.6 737 455C742.8 455.4 749.5 455.2 757 455C764.5 454.8 774.5 454.4 782 453.8C789.5 453.1 796.8 452.7 802 451.2C807.2 449.8 805.3 447.5 813.2 445C821.2 442.5 840.5 438.3 849.5 436.2C858.5 434.2 860.8 433.8 867 432.5C873.2 431.2 880.3 429.4 887 428.8C893.7 428.1 900.3 428.5 907 428.8C913.7 429 920.3 429.6 927 430C933.7 430.4 940.3 431.2 947 431.2C953.7 431.2 960.8 431 967 430C973.2 429 979.8 425.9 984 425C988.2 424.1 990.7 424.6 992 424.5L992 515 L60 515 Z" fill="#ffdc00"/>
<path d="M789.5 428C791.1 426.9 794.9 425.7 799.5 425.5C804.1 425.3 811.5 426.2 817 427C822.5 427.8 830.4 428.6 832.5 430C834.6 431.4 832.5 434.2 829.5 435.5C826.5 436.8 819.9 438 814.5 438C809.1 438 801.1 436.5 797 435.5C792.9 434.5 791.2 433.2 790 432C788.8 430.8 787.9 429.1 789.5 428Z" fill="#ffdc00"/>
<path d="M60 433C63.1 433 73.1 433.1 78.4 433C83.7 432.9 88.9 431.9 92 432.5C95.1 433.1 93.8 435 97 436.5C100.2 438 106.3 440.2 111.5 441.5C116.7 442.8 122.5 443.2 128 444C133.5 444.8 138.9 445.8 144.7 446.5C150.5 447.2 157.4 448 163 448.5C168.6 449 172.7 449.6 178 449.6C183.3 449.7 189.1 449.1 194.6 448.8C200.1 448.5 205.9 448.1 211 448C216.1 447.9 220.2 448.4 225 448C229.8 447.6 235.3 446.6 240 445.6C244.7 444.7 249.4 443.7 253 442.3C256.6 440.9 258.6 438.6 261.4 437.3C264.2 436 266.1 435.1 269.7 434.5C273.3 433.9 278.3 433.7 283 433.5C287.7 433.3 292.7 433.3 298 433.5C303.3 433.7 309.9 434.2 314.6 434.9C319.3 435.6 322 436.4 326 437.5C330 438.6 334.3 440.2 338.5 441.2C342.7 442.3 344.8 443 351 443.8C357.2 444.5 367.7 445.1 376 445.5C384.3 445.9 392.7 446.3 401 446.2C409.3 446.2 418.9 445.4 426 445C433.1 444.6 438.9 444.6 443.5 443.8C448.1 442.9 449.8 440.7 453.5 440C457.2 439.3 460.6 439.3 466 439.5C471.4 439.7 479.3 440.8 486 441.2C492.7 441.8 499.3 442.7 506 442.5C512.7 442.3 519.8 441 526 440C532.2 439 537.7 437.7 543.5 436.2C549.3 434.8 555.6 433.1 561 431.2C566.4 429.4 572.5 426.5 576 425C579.5 423.5 578.5 423.3 582 422.5C585.5 421.7 591.6 420.4 597 420C602.4 419.6 608.7 419.6 614.5 420C620.3 420.4 626.6 421.7 632 422.5C637.4 423.3 643.2 423.8 647 425C650.8 426.2 654.1 428.4 654.5 430C654.9 431.6 652.4 433.3 649.5 434.5C646.6 435.7 640.8 435.9 637 437C633.2 438.1 628.7 439.7 627 441.2C625.3 442.8 624.9 444.6 627 446.2C629.1 447.9 634.5 449.9 639.5 451.2C644.5 452.6 649.9 453.5 657 454.5C664.1 455.5 673.7 456.3 682 457C690.3 457.7 698.7 458.2 707 458.8C715.3 459.2 723.7 459.7 732 460C740.3 460.3 751.2 460.7 757 460.5C762.8 460.3 762 459.5 767 458.8C772 458 780.3 456.9 787 456.2C793.7 455.6 800.8 456 807 455C813.2 454 818.7 451.9 824.5 450C830.3 448.1 835.8 445.6 842 443.8C848.2 441.9 855.3 440.2 862 438.8C868.7 437.3 875.3 435.8 882 435C888.7 434.2 895.3 433.7 902 433.8C908.7 433.8 915.3 435 922 435.5C928.7 436 935.3 436.6 942 437C948.7 437.4 956.6 438.1 962 438C967.4 437.9 970.8 437.2 974.5 436.2C978.2 435.3 981.1 433.3 984 432.5C986.9 431.7 990.7 431.5 992 431.2L992 515 L60 515 Z" fill="#ffff8c"/>
<path d="M60 433C63.1 433 73.1 433.1 78.4 433C83.7 432.9 88.9 431.9 92 432.5C95.1 433.1 93.8 435 97 436.5C100.2 438 106.3 440.2 111.5 441.5C116.7 442.8 122.5 443.2 128 444C133.5 444.8 138.9 445.8 144.7 446.5C150.5 447.2 157.4 448 163 448.5C168.6 449 172.7 449.6 178 449.6C183.3 449.7 189.1 449.1 194.6 448.8C200.1 448.5 205.9 448.1 211 448C216.1 447.9 220.2 448.4 225 448C229.8 447.6 235.3 446.6 240 445.6C244.7 444.7 249.4 443.7 253 442.3C256.6 440.9 258.6 438.6 261.4 437.3C264.2 436 266.1 435.1 269.7 434.5C273.3 433.9 278.3 433.7 283 433.5C287.7 433.3 292.7 433.3 298 433.5C303.3 433.7 309.9 434.2 314.6 434.9C319.3 435.6 322 436.4 326 437.5C330 438.6 334.3 440.2 338.5 441.2C342.7 442.3 344.8 443 351 443.8C357.2 444.5 367.7 445.1 376 445.5C384.3 445.9 392.7 446.3 401 446.2C409.3 446.2 418.9 445.4 426 445C433.1 444.6 438.9 444.6 443.5 443.8C448.1 442.9 449.8 440.7 453.5 440C457.2 439.3 460.6 439.3 466 439.5C471.4 439.7 479.3 440.8 486 441.2C492.7 441.8 499.3 442.7 506 442.5C512.7 442.3 519.8 441 526 440C532.2 439 537.7 437.7 543.5 436.2C549.3 434.8 555.6 433.1 561 431.2C566.4 429.4 572.5 426.5 576 425C579.5 423.5 578.5 423.3 582 422.5C585.5 421.7 591.6 420.4 597 420C602.4 419.6 608.7 419.6 614.5 420C620.3 420.4 626.6 421.7 632 422.5C637.4 423.3 643.2 423.8 647 425C650.8 426.2 654.1 428.4 654.5 430C654.9 431.6 652.4 433.3 649.5 434.5C646.6 435.7 640.8 435.9 637 437C633.2 438.1 628.7 439.7 627 441.2C625.3 442.8 624.9 444.6 627 446.2C629.1 447.9 634.5 449.9 639.5 451.2C644.5 452.6 649.9 453.5 657 454.5C664.1 455.5 673.7 456.3 682 457C690.3 457.7 698.7 458.2 707 458.8C715.3 459.2 723.7 459.7 732 460C740.3 460.3 751.2 460.7 757 460.5C762.8 460.3 762 459.5 767 458.8C772 458 780.3 456.9 787 456.2C793.7 455.6 800.8 456 807 455C813.2 454 818.7 451.9 824.5 450C830.3 448.1 835.8 445.6 842 443.8C848.2 441.9 855.3 440.2 862 438.8C868.7 437.3 875.3 435.8 882 435C888.7 434.2 895.3 433.7 902 433.8C908.7 433.8 915.3 435 922 435.5C928.7 436 935.3 436.6 942 437C948.7 437.4 956.6 438.1 962 438C967.4 437.9 970.8 437.2 974.5 436.2C978.2 435.3 981.1 433.3 984 432.5C986.9 431.7 990.7 431.5 992 431.2" fill="none" stroke="#a3a3a3" stroke-width="1.9" stroke-linejoin="round"/>
<path d="M403.5 453C403.5 452 418.9 452 426 451.2C433.1 450.5 439.3 449.6 446 448.8C452.7 447.9 458.9 446.2 466 446.2C473.1 446.2 480.2 447.9 488.5 448.8C496.8 449.6 507.7 451.5 516 451.2C524.3 451 530.6 448.3 538.5 447.5C546.4 446.7 556.2 446.5 563.5 446.2C570.8 446 577.2 446.2 582 446.2C586.8 446.2 588.7 445.6 592 446.2C595.3 446.9 598.7 447.9 602 450C605.3 452.1 607.8 456.2 612 458.8C616.2 461.2 622.8 463.5 627 465C631.2 466.5 636.7 466.2 637.5 467.5C638.3 468.8 635 471 632 472.5C629 474 623.7 475 619.5 476.2C615.3 477.5 612.6 479 607 480C601.4 481 591.2 481.2 585.8 482C580.3 482.8 578.6 484.5 574.5 485C570.4 485.5 565.8 484.9 561 485C556.2 485.1 551 485.1 546 485.5C541 485.9 536 486.5 531 487.5C526 488.5 521 489.5 516 491.2C511 493 507.7 497.4 501 498C494.3 498.6 478.5 499.7 476 495C473.5 490.3 490.2 475.4 486 470C481.8 464.6 461 464.6 451 462.5C441 460.4 433.9 459.1 426 457.5C418.1 455.9 403.5 454 403.5 453Z" fill="#ffffff"/>
<path d="M823.2 462.5C823.7 461 827.6 459.9 832 458.8C836.4 457.6 843.7 455.9 849.5 455.5C855.3 455.1 861.2 455.7 867 456.2C872.8 456.8 879.5 457.7 884.5 458.8C889.5 459.8 894.7 460.6 897 462.5C899.3 464.4 897 467.5 898.2 470C899.5 472.5 903.9 475.3 904.5 477.5C905.1 479.7 904.5 481.3 902 483C899.5 484.7 895.3 486.8 889.5 487.5C883.7 488.2 874.9 487.9 867 487.5C859.1 487.1 850.3 485.8 842 485C833.7 484.2 819.5 483.8 817 482.5C814.5 481.2 824.4 479.2 827 477.5C829.6 475.8 832.1 474.2 832.5 472.5C832.9 470.8 831 469.2 829.5 467.5C828 465.8 822.8 464 823.2 462.5Z" fill="#ffffff"/>
<path d="M376 190C378.5 196.2 385.6 202 391 205C396.4 208 402.7 208.1 408.5 208C414.3 207.9 420.2 205.4 426 204.5C431.8 203.6 437.7 202.6 443.5 202.5C449.3 202.4 454.8 203.5 461 204C467.2 204.5 474.3 205.1 481 205.5C487.7 205.9 494.3 206.2 501 206.2C507.7 206.2 514.3 206.2 521 205.5C527.7 204.8 534.3 203.5 541 202C547.7 200.5 554.2 198.2 561 196.2C567.8 194.2 576 192.1 582 190C588 187.9 592 185.8 597 183.8C602 181.7 607 179.6 612 177.5C617 175.4 622.8 173.1 627 171.2C631.2 169.4 634.5 168.1 637 166.2C639.5 164.4 640.5 162.1 642 160C643.5 157.9 644.3 155.4 645.8 153.8C647.2 152.1 650.5 152.3 650.8 150C651 147.7 654.8 143.3 647.5 140C640.2 136.7 617.9 132.5 607 130C596.1 127.5 591.3 127.1 582 125C572.7 122.9 568.7 118.8 551 117.5C533.3 116.2 498.9 115.4 476 117.5C453.1 119.6 430.2 121.7 413.5 130C396.8 138.3 382.2 157.5 376 167.5C369.8 177.5 373.5 183.8 376 190Z" fill="#c00000"/>
<path d="M376 185C379.3 180 390.6 181.7 396 185C401.4 188.3 407.7 200 408.5 205C409.3 210 403.8 212.5 401 215C398.2 217.5 394.4 218.3 391.5 220C388.6 221.7 386.1 225.8 383.5 225C380.9 224.2 377.2 221.7 376 215C374.8 208.3 372.7 190 376 185Z" fill="#c00000"/>
<path d="M436 191.2C439.3 192.5 445.2 192.1 451 192.5C456.8 192.9 462.7 193.8 471 193.8C479.3 193.7 493.9 193 501 192C508.1 191 510 189.1 513.5 187.5C517 185.9 521.8 184.2 522.2 182.5C522.7 180.8 519.5 179.2 516 177.5C512.5 175.8 505.6 174.2 501 172.5C496.4 170.8 491.2 169.2 488.5 167.5C485.8 165.8 484.8 164.6 484.8 162.5C484.8 160.4 486.2 157.3 488.5 155C490.8 152.7 494.8 150.5 498.5 148.8C502.2 147 506.4 145.5 511 144.5C515.6 143.5 521 142.8 526 142.5C531 142.2 536 142.4 541 143C546 143.6 551 145.1 556 146.2C561 147.4 566.7 149 571 150C575.3 151 578.5 152.1 582 152C585.5 151.9 588.7 150.7 592 149.5C595.3 148.3 599.5 146.4 602 145C604.5 143.6 607.8 142.9 607 141.2C606.2 139.6 601.2 136.9 597 135C592.8 133.1 589.7 132.1 582 130C574.3 127.9 566.6 123.3 551 122.5C535.4 121.7 509.3 122.5 488.5 125C467.7 127.5 437.2 131.7 426 137.5C414.8 143.3 420.2 152.1 421 160C421.8 167.9 428.5 179.8 431 185C433.5 190.2 432.7 190 436 191.2Z" fill="#800000"/>
<path d="M436 191.2C438.5 191.5 445.2 192.1 451 192.5C456.8 192.9 462.7 193.8 471 193.8C479.3 193.7 493.9 193 501 192C508.1 191 510 189.1 513.5 187.5C517 185.9 521.8 184.2 522.2 182.5C522.7 180.8 519.5 179.2 516 177.5C512.5 175.8 505.6 174.2 501 172.5C496.4 170.8 491.2 169.2 488.5 167.5C485.8 165.8 484.8 164.6 484.8 162.5C484.8 160.4 486.2 157.3 488.5 155C490.8 152.7 494.8 150.5 498.5 148.8C502.2 147 506.4 145.5 511 144.5C515.6 143.5 521 142.8 526 142.5C531 142.2 536 142.4 541 143C546 143.6 551 145.1 556 146.2C561 147.4 566.7 149 571 150C575.3 151 578.5 152.1 582 152C585.5 151.9 588.7 150.7 592 149.5C595.3 148.3 599.5 146.4 602 145C604.5 143.6 606.2 141.9 607 141.2" fill="none" stroke="#b9a0a0" stroke-width="1.4" stroke-linejoin="round"/>
<path d="M421 140C424.8 137.9 438.5 138.8 446 138.8C453.5 138.8 462.2 139.4 466 140C469.8 140.6 471 141.6 468.5 142.5C466 143.4 455.1 143.4 451 145.5C446.9 147.6 444.9 151.8 444 155C443.1 158.2 445.9 162.4 445.5 165C445.1 167.6 443.1 169.9 441.5 170.5C439.9 171.1 437.3 171.3 436 168.8C434.7 166.2 435.6 157.9 433.5 155C431.4 152.1 425.6 153.8 423.5 151.2C421.4 148.8 417.2 142.1 421 140Z" fill="#c00000"/>
<path d="M468.5 142.5C465.6 143 455.1 143.4 451 145.5C446.9 147.6 444.9 151.8 444 155C443.1 158.2 445.9 162.4 445.5 165C445.1 167.6 442.2 169.6 441.5 170.5" fill="none" stroke="#b9a0a0" stroke-width="1.4" stroke-linejoin="round"/>
<path d="M469.8 141.2C470.2 140 475.4 136.7 478.5 135C481.6 133.3 487.2 130.6 488.5 131.2C489.8 131.9 488.1 136.9 486 138.8C483.9 140.6 478.7 142.1 476 142.5C473.3 142.9 469.3 142.5 469.8 141.2Z" fill="#ff6a0a"/>
<path d="M420.5 147C420.7 145.8 424.5 143.7 426 143.8C427.5 143.8 430 146.2 429.8 147.5C429.5 148.8 426.3 151.3 424.8 151.2C423.2 151.2 420.3 148.2 420.5 147Z" fill="#ff6a0a"/>
<path d="M401 191.2C403.1 189.8 408.3 188.5 412.2 186.2C416.2 184 421.6 180 424.8 177.5C427.9 175 429.1 173.8 431 171.2C432.9 168.8 434.7 162.3 436 162.5C437.3 162.7 439 168.8 439 172.5C439 176.2 438.2 181.7 436 185C433.8 188.3 429.8 190 426 192.5C422.2 195 416.8 198.2 413.5 200C410.2 201.8 407.9 203.2 406 203C404.1 202.8 403.3 200.1 402.2 198.8C401.2 197.4 400 196.2 399.8 195C399.5 193.8 398.9 192.7 401 191.2Z" fill="#800000"/>
<path d="M65 87.5 L260 87.5 L265 120 L65 130Z" fill="#c00000"/>
<path d="M65 118.8C68.3 114.8 79.2 117.2 85 116.2C90.8 115.3 95 114.2 100 113C105 111.8 110.4 109.2 115 108.8C119.6 108.3 126.7 109.2 127.5 110.5C128.3 111.8 123.3 114 120 116.2C116.7 118.5 111.7 121.5 107.5 123.8C103.3 126 98.8 127.7 95 130C91.2 132.3 90 135.8 85 137.5C80 139.2 68.3 143.1 65 140C61.7 136.9 61.7 122.7 65 118.8Z" fill="#ff4500"/>
<path d="M65 126.2C67.5 122.9 75.4 126 80 125C84.6 124 88.3 121.8 92.5 120.5C96.7 119.2 100.6 118.5 105 117.5C109.4 116.5 117.9 113.9 118.8 114.5C119.6 115.1 113.5 119 110 121.2C106.5 123.5 100.4 125.7 97.5 128C94.6 130.3 94.6 132.6 92.5 135C90.4 137.4 89.6 140.8 85 142.5C80.4 144.2 68.3 147.7 65 145C61.7 142.3 62.5 129.6 65 126.2Z" fill="#ff6a0a"/>
<path d="M65 137.5C67.2 132.9 74.2 137.1 78 137.5C81.8 137.9 85 139.1 87.5 140C90 140.9 91.8 141.7 93 143C94.2 144.3 94.9 146.3 95 148C95.1 149.7 95 151.5 93.8 153C92.5 154.5 90.1 155.4 87.5 157C84.9 158.6 81.8 161.2 78 162.5C74.2 163.8 67.2 169.2 65 165C62.8 160.8 62.8 142.1 65 137.5Z" fill="#ff4500"/>
<path d="M65 118.8C68.3 118.3 79.2 117.2 85 116.2C90.8 115.3 95 114.2 100 113C105 111.8 110.6 109.3 115 108.8C119.4 108.2 124.4 109.4 126.2 109.5" fill="none" stroke="#a3a3a3" stroke-width="1.9" stroke-linejoin="round"/>
<path d="M65 127.5C67.5 127.2 75.4 126.7 80 125.5C84.6 124.3 88.3 121.8 92.5 120.5C96.7 119.2 100.6 118.5 105 117.5C109.4 116.5 116.5 115 118.8 114.5" fill="none" stroke="#a3a3a3" stroke-width="1.9" stroke-linejoin="round"/>
<path d="M103.8 93.8C106 94 113.1 98.5 120 98.8C126.9 99 136.7 96.2 145 95C153.3 93.8 161.7 92.1 170 91.2C178.3 90.4 186.7 90.2 195 90C203.3 89.8 211.7 89.6 220 90C228.3 90.4 240 91.7 245 92.5C250 93.3 250.4 94.2 250 95C249.6 95.8 246.7 96.2 242.5 97C238.3 97.8 230 98.4 225 99.5C220 100.6 215.2 102.2 212.5 103.8C209.8 105.3 207.9 107.2 208.8 108.8C209.6 110.3 217.3 111.9 217.5 113C217.7 114.1 212.9 114.9 210 115.5C207.1 116.1 203.3 116.2 200 116.5C196.7 116.8 192.7 117 190 117.5C187.3 118 186.2 119.7 183.8 119.5C181.2 119.3 177.5 117.2 175 116.5C172.5 115.8 171.2 115.3 168.8 115C166.2 114.7 162.7 115.2 160 114.5C157.3 113.8 155.8 111.9 152.5 110.5C149.2 109.1 144.2 107.2 140 106.2C135.8 105.3 131.7 105.8 127.5 105C123.3 104.2 118.5 102.5 115 101.2C111.5 100 108.1 98.8 106.2 97.5C104.4 96.2 101.5 93.5 103.8 93.8Z" fill="#800000"/>
<path d="M65 98.8C67.2 96 72.2 98.5 78 98.8C83.8 99 95.9 97.9 100 100C104.1 102.1 106.2 108.8 102.5 111.2C98.8 113.8 84.2 114.4 78 115C71.8 115.6 67.2 117.7 65 115C62.8 112.3 62.8 101.5 65 98.8Z" fill="#800000"/>
<path d="M65 98.8C67.2 98.8 72.2 98.5 78 98.8C83.8 99 95.9 97.9 100 100C104.1 102.1 106.2 108.8 102.5 111.2C98.8 113.8 84.2 114.4 78 115C71.8 115.6 67.2 115 65 115" fill="none" stroke="#b9a0a0" stroke-width="1.2" stroke-linejoin="round"/>
<path d="M120 96.2C124.2 96.5 139.2 96.8 145 98C150.8 99.2 152.5 101.5 155 103.8C157.5 106 159.2 110 160 111.2" fill="none" stroke="#b9a0a0" stroke-width="1.2" stroke-linejoin="round"/>
<path d="M165 95C169.2 94.6 183.1 92.5 190 92.5C196.9 92.5 203.8 93.1 206.2 95C208.8 96.9 207.7 101.5 205 103.8C202.3 106 195 107.4 190 108.8C185 110.1 177.5 111.5 175 112" fill="none" stroke="#b9a0a0" stroke-width="1.2" stroke-linejoin="round"/>
<path d="M220 108.8C220 107.2 225.8 105.4 230 103.8C234.2 102.1 240 100.2 245 98.8C250 97.3 255.8 96 260 95C264.2 94 268.3 90.2 270 92.5C271.7 94.8 272.5 105 270 108.8C267.5 112.5 259.6 114.3 255 115C250.4 115.7 246.7 113.3 242.5 113C238.3 112.7 233.8 113.7 230 113C226.2 112.3 220 110.3 220 108.8Z" fill="#ff4500"/>
<path d="M242.5 105C243.3 102.1 250.4 99.8 255 97.5C259.6 95.2 265 92.5 270 91.2C275 90 276.7 89.8 285 90C293.3 90.2 310 92.1 320 92.5C330 92.9 340.8 88.8 345 92.5C349.2 96.2 355 112.3 345 115C335 117.7 298.8 110.4 285 108.8C271.2 107.1 267.3 104 262.5 105C257.7 106 258.3 113.3 256.2 115C254.2 116.7 252.3 116.7 250 115C247.7 113.3 241.7 107.9 242.5 105Z" fill="#ff8200"/>
<path d="M65 88.8C67.5 88.7 72.9 88.5 80 88.2C87.1 88 96.7 87.7 107.5 87.5C118.3 87.3 130.4 87 145 87C159.6 87 178.3 87.5 195 87.5C211.7 87.5 233.3 86.6 245 87C256.7 87.4 260.8 86 265 90C269.2 94 265 108.3 270 111.2C275 114.2 286.7 108.8 295 107.5C303.3 106.2 313.6 105.6 320 103.8C326.4 101.9 328.3 97.1 333.5 96.2C338.7 95.4 343.9 97.3 351 98.8C358.1 100.2 366.4 103.1 376 105C385.6 106.9 399.3 109.7 408.5 110C417.7 110.3 423.9 107.1 431 107C438.1 106.9 445.2 108.3 451 109.5C456.8 110.7 457.7 112.9 466 114C474.3 115.1 488.9 115.6 501 116.2C513.1 116.9 532.2 120.5 538.5 118C544.8 115.5 536.9 103.8 539 101.2C541.1 98.8 543.8 102.5 551 103C558.2 103.5 574.3 104 582 104.5C589.7 105 592 105.7 597 106.2C602 106.8 607 107.2 612 108C617 108.8 622.4 110 627 111.2C631.6 112.5 635.3 115.3 639.5 115.5C643.7 115.7 647.8 113.5 652 112.5C656.2 111.5 661.8 110.8 664.5 109.5C667.2 108.2 663.7 105.1 668.2 105C672.8 104.9 684.7 107.1 692 108.8C699.3 110.4 703.7 113.9 712 115C720.3 116.1 734.5 116 742 115.5C749.5 115 752 113.1 757 112C762 110.9 767.8 110.3 772 108.8C776.2 107.2 779.9 104.4 782 102.5C784.1 100.6 784.1 98.3 784.5 97.5L784.5 55 L65 55 Z" fill="#ff8200"/>
<path d="M538.5 102.5C538.5 103.1 546.4 104 551 105C555.6 106 560.8 107.8 566 108.8C571.2 109.7 576.8 109.9 582 110.5C587.2 111.1 587.4 111.7 597 112.5C606.6 113.3 632 116.1 639.5 115.5C647 114.9 649.1 110.3 642 108.8C634.9 107.2 607 106.9 597 106.2C587 105.6 589.7 105.8 582 105C574.3 104.2 558.2 101.7 551 101.2C543.8 100.8 538.5 101.9 538.5 102.5Z" fill="#ff8200"/>
<path d="M539.8 108.8C541.8 107.2 546.6 107 551 107C555.4 107 560.8 108 566 108.8C571.2 109.5 579.3 110.2 582 111.2C584.7 112.3 583.4 114.7 582 115C580.6 115.3 576.2 112.6 573.5 113C570.8 113.4 566.6 116.1 566 117.5C565.4 118.9 570.2 119.8 569.8 121.2C569.3 122.7 563.5 124.8 563.5 126.2C563.5 127.7 571.8 130 569.8 130C567.7 130 553.6 127.7 551 126.2C548.4 124.8 554.8 122.5 554 121.2C553.2 120 548.6 119.6 546 118.8C543.4 117.9 539.5 117.9 538.5 116.2C537.5 114.6 537.7 110.3 539.8 108.8Z" fill="#ff4500"/>
<path d="M552.2 115C553.1 113.8 557.7 112.1 561 112C564.3 111.9 571.2 113.5 572.2 114.5C573.3 115.5 567.2 116.8 567.2 118C567.2 119.2 573.3 121.2 572.2 122C571.2 122.8 563.7 123.4 561 123C558.3 122.6 557.5 120.8 556 119.5C554.5 118.2 551.4 116.2 552.2 115Z" fill="#c00000"/>
<path d="M538.5 110.5C540.6 110.1 546.4 108.3 551 108C555.6 107.7 561.4 108.1 566 108.8C570.6 109.4 576.4 111.5 578.5 112" fill="none" stroke="#a3a3a3" stroke-width="1.9" stroke-linejoin="round"/>
<path d="M554.8 116.2C556 115.7 559.5 113.2 562.2 113C565 112.8 570.4 114.2 571 115C571.6 115.8 566 116.8 566 118C566 119.2 571.8 121 571 122C570.2 123 562.7 123.5 561 123.8" fill="none" stroke="#a3a3a3" stroke-width="1.9" stroke-linejoin="round"/>
<path d="M65 85.5C67.5 85.4 72.9 85.2 80 85C87.1 84.8 96.7 84.2 107.5 84C118.3 83.8 130.4 83.5 145 83.5C159.6 83.5 178.3 84 195 84C211.7 84 232.9 83.3 245 83.5C257.1 83.7 259.2 84.7 267.5 85C275.8 85.3 285.2 85.6 295 85.5C304.8 85.4 316.7 84 326 84.5C335.3 85 342.7 87.4 351 88.8C359.3 90.1 367.7 91.2 376 92.5C384.3 93.8 392.7 95.2 401 96.2C409.3 97.3 419.8 97.9 426 98.8C432.2 99.6 433.5 100 438.5 101.2C443.5 102.5 452 105.1 456 106.2C460 107.4 458.9 108.2 462.2 108C465.6 107.8 469.5 106 476 105C482.5 104 492.7 103 501 102C509.3 101 517.7 99.8 526 99C534.3 98.2 541.7 97.2 551 97C560.3 96.8 574.3 97.3 582 97.5C589.7 97.7 592 97.5 597 98C602 98.5 607 99.7 612 100.5C617 101.3 622.4 102.2 627 103C631.6 103.8 634.5 104.9 639.5 105C644.5 105.1 652.2 103.8 657 103.8C661.8 103.8 662.4 104.4 668.2 105C674.1 105.6 684.7 106 692 107.5C699.3 109 703.7 112.6 712 113.8C720.3 114.9 734.5 115 742 114.5C749.5 114 752 111.7 757 110.5C762 109.3 767.8 109 772 107.5C776.2 106 779.9 103.1 782 101.2C784.1 99.4 782.4 97.6 784.5 96.2C786.6 94.9 790.8 93.2 794.5 93C798.2 92.8 802.4 94.2 807 95C811.6 95.8 817.4 96.9 822 97.5C826.6 98.1 831.2 97.5 834.5 98.8C837.8 100 839.9 102.9 842 105C844.1 107.1 845.5 109.2 847 111.2C848.5 113.3 851.6 116 850.8 117.5C849.9 119 845.1 120 842 120.5C838.9 121 830.8 127.2 832 120.5C833.2 113.8 846.6 86.8 849.5 80L849.5 55 L65 55 Z" fill="#ffb400"/>
<path d="M65 83.8C67.5 83.7 72.9 83.7 80 83.5C87.1 83.3 96.7 82.8 107.5 82.5C118.3 82.2 130.4 82 145 82C159.6 82 178.3 82.5 195 82.5C211.7 82.5 232.9 81.9 245 82C257.1 82.1 259.2 82.8 267.5 83C275.8 83.2 285.2 83.1 295 83C304.8 82.9 316.7 81.8 326 82.5C335.3 83.2 342.7 85.7 351 87C359.3 88.3 367.7 89.4 376 90.5C384.3 91.6 392.7 92.8 401 93.8C409.3 94.7 419.8 95.4 426 96.2C432.2 97.1 433.5 97.5 438.5 98.8C443.5 100 452 102.7 456 103.8C460 104.8 458.9 105.3 462.2 105C465.6 104.7 469.5 103.2 476 102C482.5 100.8 492.7 99.2 501 98C509.3 96.8 517.7 95.9 526 95C534.3 94.1 541.7 92.9 551 92.5C560.3 92.1 572.7 92.2 582 92.5C591.3 92.8 598.7 93.6 607 94.5C615.3 95.4 623.7 97 632 98C640.3 99 650.3 100.2 657 100.5C663.7 100.8 668.7 100.6 672 100C675.3 99.4 673.2 97.8 677 97C680.8 96.2 689.5 97.8 694.5 95C699.5 92.2 704.9 82.5 707 80L707 55 L65 55 Z" fill="#ffdc00"/>
<path d="M65 75C67.5 74.9 72.9 75 80 74.5C87.1 74 98.8 72.5 107.5 72C116.2 71.5 122.1 71.2 132.5 71.2C142.9 71.2 155.4 71.9 170 72C184.6 72.1 204.2 72 220 72C235.8 72 252.5 71.8 265 72C277.5 72.2 284.8 72.7 295 73C305.2 73.3 316.7 73.2 326 73.8C335.3 74.3 342.7 75.5 351 76.2C359.3 77 367.7 77.5 376 78C384.3 78.5 391.8 78.8 401 79.5C410.2 80.2 421 81.2 431 82C441 82.8 449.3 84 461 84.5C472.7 85 488.1 84.8 501 85C513.9 85.2 526.4 85.3 538.5 85.5C550.6 85.7 566.2 86.2 573.5 86.2C580.8 86.2 576.4 85.1 582 85.5C587.6 85.9 598.7 87.6 607 88.8C615.3 89.9 623.7 91.5 632 92.5C640.3 93.5 650.3 94.4 657 95C663.7 95.6 667.8 96.5 672 96.2C676.2 96 678.2 94.4 682 93.8C685.8 93.1 690.3 93.1 694.5 92.5C698.7 91.9 702.8 90.6 707 90C711.2 89.4 715.3 89.2 719.5 88.8C723.7 88.3 727.8 88.1 732 87.5C736.2 86.9 740.3 85.8 744.5 85C748.7 84.2 753.2 83.3 757 82.5C760.8 81.7 755.3 80.1 767 80C778.7 79.9 796 81.2 827 82C858 82.8 930.8 84.6 953.2 84.5C975.8 84.4 958.5 82.1 962 81.2C965.5 80.4 970.8 79.9 974.5 79.5C978.2 79.1 981.1 79 984 78.8C986.9 78.5 990.7 78.1 992 78L992 55 L65 55 Z" fill="#ffff8c"/>
<path d="M65 75C67.5 74.9 72.9 75 80 74.5C87.1 74 98.8 72.5 107.5 72C116.2 71.5 122.1 71.2 132.5 71.2C142.9 71.2 155.4 71.9 170 72C184.6 72.1 204.2 72 220 72C235.8 72 252.5 71.8 265 72C277.5 72.2 284.8 72.7 295 73C305.2 73.3 316.7 73.2 326 73.8C335.3 74.3 342.7 75.5 351 76.2C359.3 77 367.7 77.5 376 78C384.3 78.5 391.8 78.8 401 79.5C410.2 80.2 421 81.2 431 82C441 82.8 449.3 84 461 84.5C472.7 85 488.1 84.8 501 85C513.9 85.2 526.4 85.3 538.5 85.5C550.6 85.7 566.2 86.2 573.5 86.2C580.8 86.2 576.4 85.1 582 85.5C587.6 85.9 598.7 87.6 607 88.8C615.3 89.9 623.7 91.5 632 92.5C640.3 93.5 650.3 94.4 657 95C663.7 95.6 667.8 96.5 672 96.2C676.2 96 678.2 94.4 682 93.8C685.8 93.1 690.3 93.1 694.5 92.5C698.7 91.9 702.8 90.6 707 90C711.2 89.4 715.3 89.2 719.5 88.8C723.7 88.3 727.8 88.1 732 87.5C736.2 86.9 740.3 85.8 744.5 85C748.7 84.2 753.2 83.3 757 82.5C760.8 81.7 755.3 80.1 767 80C778.7 79.9 796 81.2 827 82C858 82.8 930.8 84.6 953.2 84.5C975.8 84.4 958.5 82.1 962 81.2C965.5 80.4 972.4 79.8 974.5 79.5" fill="none" stroke="#a3a3a3" stroke-width="1.9" stroke-linejoin="round"/>
<path d="M65 87C67.5 86.9 72.9 86.6 80 86.2C87.1 85.9 96.7 85.3 107.5 85C118.3 84.7 130.4 84.5 145 84.5C159.6 84.5 178.3 85 195 85C211.7 85 232.9 84.3 245 84.5C257.1 84.7 263.8 86 267.5 86.2" fill="none" stroke="#a3a3a3" stroke-width="1.9" stroke-linejoin="round"/>
<path d="M461 108.8C463.5 108.2 469.3 106.5 476 105.5C482.7 104.5 492.7 103.4 501 102.5C509.3 101.6 519.3 100.3 526 100C532.7 99.7 538.5 100.6 541 100.8" fill="none" stroke="#a3a3a3" stroke-width="1.9" stroke-linejoin="round"/>
<path d="M666.5 106.2C668 105.1 673.2 104.6 677 105C680.8 105.4 687.3 107.2 689.5 108.8C691.7 110.3 692.1 113.7 690 114.5C687.9 115.3 680.6 114.2 677 113.8C673.4 113.3 670 113.2 668.2 112C666.5 110.8 665 107.4 666.5 106.2Z" fill="#ff8200"/>
<path d="M823.2 126.2 L917 118.8 L992 118.8 L992 202.5 L939.5 202.5 L922 195 L892 167.5 L842 150Z" fill="#ff6a0a"/>
<path d="M903 178.7C904.9 180.6 913 177.4 919.7 176.7C926.3 175.9 938 173.9 943 174.2C948 174.4 948.2 176 949.7 178.3C951.1 180.7 950 185.3 951.7 188.3C953.3 191.4 956.7 195.1 959.7 196.7C962.7 198.2 965.2 197.5 969.7 197.5C974.1 197.5 983.6 209 986.3 196.7C989.1 184.3 994.7 135.6 986.3 123.3C978 111.1 946.9 118.9 936.3 123.3C925.8 127.8 927.7 143.1 923 150C918.3 156.9 911.3 160.2 908 165C904.7 169.8 901.1 176.7 903 178.7Z" fill="#ff8200"/>
<path d="M812 130C813 128.2 820.3 125 823.2 126.2C826.2 127.5 826.4 134.2 829.5 137.5C832.6 140.8 837.8 143.5 842 146.2C846.2 149 850.3 151.5 854.5 153.8C858.7 156 862.8 158.3 867 160C871.2 161.7 876.6 162.5 879.5 163.8C882.4 165 884.9 166.5 884.5 167.5C884.1 168.5 879.9 169.5 877 169.5C874.1 169.5 871.2 168.4 867 167.5C862.8 166.6 856.2 165 852 164C847.8 163 844.7 163.2 842 161.2C839.3 159.2 838.6 154.8 836 152C833.4 149.2 829.4 146.8 826.2 144.2C823.1 141.8 819.4 139.4 817 137C814.6 134.6 811 131.8 812 130Z" fill="#ff8200"/>
<path d="M823.2 127.5C823.9 130 826.4 134.4 829.5 137.5C832.6 140.6 837.8 143.5 842 146.2C846.2 149 850.3 151.5 854.5 153.8C858.7 156 862.8 158.3 867 160C871.2 161.7 875.8 162.7 879.5 163.8C883.2 164.8 886.6 164.8 889.5 166.2C892.4 167.7 894.7 170.7 897 172.5C899.3 174.3 900.8 176.4 903.2 177C905.8 177.6 908.9 177.1 912 176.2C915.1 175.4 918.7 173.5 922 172C925.3 170.5 928.7 169.1 932 167.5C935.3 165.9 938.7 164.1 942 162.5C945.3 160.9 949.1 159.5 952 158C954.9 156.5 957.4 155.9 959.5 153.8C961.6 151.6 963.2 147.5 964.5 145C965.8 142.5 967.4 141 967 138.8C966.6 136.5 964.1 133.1 962 131.2C959.9 129.4 957.8 128.3 954.5 127.5C951.2 126.7 946.2 126.7 942 126.2C937.8 125.8 932.8 125.7 929.5 125C926.2 124.3 924.1 122.9 922 122C919.9 121.1 919.5 119.9 917 119.5C914.5 119.1 910.3 119.2 907 119.5C903.7 119.8 900.3 120.3 897 121.2C893.7 122.2 889.7 123.5 887 125C884.3 126.5 882.8 127.8 880.8 130C878.7 132.2 876.8 137.2 874.5 138C872.2 138.8 869.3 136.3 867 135C864.7 133.7 862.8 131.9 860.8 130C858.7 128.1 856.2 125.8 854.5 123.8C852.8 121.7 852.8 118 850.8 117.5C848.7 117 845.1 120 842 120.5C838.9 121 834.7 120.2 832 120.5C829.3 120.8 827.2 121.3 825.8 122.5C824.3 123.7 822.6 125 823.2 127.5Z" fill="#ffb400"/>
<path d="M823.2 127.5C824.3 129.2 826.4 134.4 829.5 137.5C832.6 140.6 837.8 143.5 842 146.2C846.2 149 850.3 151.5 854.5 153.8C858.7 156 862.8 158.3 867 160C871.2 161.7 875.8 162.7 879.5 163.8C883.2 164.8 886.6 164.8 889.5 166.2C892.4 167.7 894.7 170.7 897 172.5C899.3 174.3 900.8 176.4 903.2 177C905.8 177.6 908.9 177.1 912 176.2C915.1 175.4 918.7 173.5 922 172C925.3 170.5 928.7 169.1 932 167.5C935.3 165.9 938.7 164.1 942 162.5C945.3 160.9 949.1 159.5 952 158C954.9 156.5 957.4 155.9 959.5 153.8C961.6 151.6 963.2 147.5 964.5 145C965.8 142.5 967.4 141 967 138.8C966.6 136.5 964.1 133.1 962 131.2C959.9 129.4 957.8 128.3 954.5 127.5C951.2 126.7 946.2 126.7 942 126.2C937.8 125.8 932.8 125.7 929.5 125C926.2 124.3 923.2 122.5 922 122" fill="none" stroke="#a3a3a3" stroke-width="1.9" stroke-linejoin="round"/>
<path d="M828.2 132.5C828.7 130.8 831.8 129.6 834.5 128.8C837.2 127.9 841.6 126.9 844.5 127.5C847.4 128.1 849.5 130.8 852 132.5C854.5 134.2 856.6 136.5 859.5 137.5C862.4 138.5 866.2 139.2 869.5 138.8C872.8 138.3 875.8 136.7 879.5 135C883.2 133.3 887.4 130.2 892 128.8C896.6 127.3 902 126 907 126.2C912 126.5 917.8 128.1 922 130C926.2 131.9 929.1 134.6 932 137.5C934.9 140.4 938.7 144.2 939.5 147.5C940.3 150.8 939.1 154.6 937 157.5C934.9 160.4 930.3 163.1 927 165C923.7 166.9 920.3 167.7 917 168.8C913.7 169.8 909.5 171.9 907 171.2C904.5 170.6 904.5 166 902 165C899.5 164 894.9 165.4 892 165C889.1 164.6 887.4 163.3 884.5 162.5C881.6 161.7 877.8 161 874.5 160C871.2 159 867.8 157.7 864.5 156.2C861.2 154.8 858.2 153.1 854.5 151.2C850.8 149.4 845.8 147.1 842 145C838.2 142.9 834.3 140.8 832 138.8C829.7 136.7 827.8 134.2 828.2 132.5Z" fill="#ffdc00"/>
<path d="M869.5 151.2C869.5 149.8 873.7 149.2 877 147.5C880.3 145.8 886.2 143.3 889.5 141.2C892.8 139.2 894.7 136.7 897 135C899.3 133.3 901.4 131 903.2 131.2C905.1 131.5 906 134.4 908.2 136.2C910.5 138.1 913.9 140.7 917 142.5C920.1 144.3 926 145.5 927 147C928 148.5 925.3 149.7 923.2 151.2C921.2 152.8 917.2 155.6 914.5 156.2C911.8 156.9 909.5 155.4 907 155C904.5 154.6 902.8 153.5 899.5 153.8C896.2 154 890.8 155.8 887 156.2C883.2 156.7 879.9 157.1 877 156.2C874.1 155.4 869.5 152.7 869.5 151.2Z" fill="#ffff8c"/>
<path d="M869.5 151.2C869.5 149.8 873.7 149.2 877 147.5C880.3 145.8 886.2 143.3 889.5 141.2C892.8 139.2 894.7 136.7 897 135C899.3 133.3 901.4 131 903.2 131.2C905.1 131.5 906 134.4 908.2 136.2C910.5 138.1 913.9 140.7 917 142.5C920.1 144.3 926 145.5 927 147C928 148.5 925.3 149.7 923.2 151.2C921.2 152.8 917.2 155.6 914.5 156.2C911.8 156.9 909.5 155.4 907 155C904.5 154.6 902.8 153.5 899.5 153.8C896.2 154 890.8 155.8 887 156.2C883.2 156.7 879.9 157.1 877 156.2C874.1 155.4 869.5 152.7 869.5 151.2Z" fill="none" stroke="#a3a3a3" stroke-width="1.9" stroke-linejoin="round"/>
<path d="M893.2 146.2C893.6 144.3 895.3 142.1 897 141.2C898.7 140.4 901.9 140 903.2 141.2C904.6 142.5 905.2 146.7 905 148.8C904.8 150.8 903.7 153 902 153.8C900.3 154.5 896.5 154.2 895 153C893.5 151.8 892.9 148.2 893.2 146.2Z" fill="#ffffff"/>
<path d="M929.5 115C929.5 112.5 937.4 108.1 942 105C946.6 101.9 951.6 98.8 957 96.2C962.4 93.8 968.7 91.5 974.5 90C980.3 88.5 989.1 82.1 992 87.5C994.9 92.9 997.8 116.5 992 122.5C986.2 128.5 965.3 124.2 957 123.8C948.7 123.3 946.6 121.5 942 120C937.4 118.5 929.5 117.5 929.5 115Z" fill="#ff4500"/>
<path d="M942 111.2C942.4 108.8 947.8 104.8 952 102.5C956.2 100.2 960.3 98.8 967 97.5C973.7 96.2 987.8 91.3 992 95C996.2 98.7 997 115.2 992 119.5C987 123.8 969.1 120.8 962 120.5C954.9 120.2 952.8 119 949.5 117.5C946.2 116 941.6 113.8 942 111.2Z" fill="#c00000"/>
<path d="M955.8 111.2C955.8 109.4 960.5 106.5 964.5 105C968.5 103.5 974.9 102.8 979.5 102.5C984.1 102.2 989.9 100.7 992 103C994.1 105.3 994.1 113.8 992 116.2C989.9 118.7 984.1 117.5 979.5 117.5C974.9 117.5 968.5 117.3 964.5 116.2C960.5 115.2 955.8 113.1 955.8 111.2Z" fill="#800000"/>
<path d="M955.8 111.2C955.8 109.4 960.5 106.5 964.5 105C968.5 103.5 974.9 102.8 979.5 102.5C984.1 102.2 989.9 100.7 992 103C994.1 105.3 994.1 113.8 992 116.2C989.9 118.7 984.1 117.5 979.5 117.5C974.9 117.5 968.5 117.3 964.5 116.2C960.5 115.2 955.8 113.1 955.8 111.2Z" fill="none" stroke="#b9a0a0" stroke-width="1.2" stroke-linejoin="round"/>
<path d="M927 108.8C929.5 107.1 936.2 101.5 942 98.8C947.8 96 955 94.2 962 92.5C969 90.8 980.3 89.4 984 88.8" fill="none" stroke="#a3a3a3" stroke-width="1.9" stroke-linejoin="round"/>
<path d="M939.5 113.8C941.6 112.1 947.4 106.4 952 103.8C956.6 101.1 961.7 99.5 967 98C972.3 96.5 981.2 95.5 984 95" fill="none" stroke="#a3a3a3" stroke-width="1.9" stroke-linejoin="round"/>
<path d="M802 175C807 172.1 812 169.6 817 167.5C822 165.4 826.6 162.9 832 162.5C837.4 162.1 842 164 849.5 165C857 166 870.8 167.5 877 168.8C883.2 170 885.1 170.6 887 172.5C888.9 174.4 888.9 177.9 888.5 180C888.1 182.1 886.8 183.3 884.5 185C882.2 186.7 878.2 188.5 874.5 190C870.8 191.5 864.9 192.7 862 193.8C859.1 194.8 856.2 196 857 196.2C857.8 196.5 862.4 195.3 867 195.5C871.6 195.7 878.7 197.6 884.5 197.5C890.3 197.4 896.6 196.2 902 195C907.4 193.8 912.4 191.2 917 190C921.6 188.8 926.2 187.3 929.5 187.5C932.8 187.7 935.7 189.2 937 191.2C938.3 193.3 938.3 196.9 937.5 200C936.7 203.1 935.4 207.1 932 210C928.6 212.9 921.2 215.6 917 217.5C912.8 219.4 910.3 219.2 907 221.2C903.7 223.3 920.3 228.5 897 230C873.7 231.5 788.7 235.8 767 230C745.3 224.2 763.7 202.5 767 195C770.3 187.5 781.2 188.3 787 185C792.8 181.7 797 177.9 802 175Z" fill="#ff4500"/>
<path d="M877 168.8C878.7 169.4 885.1 170.6 887 172.5C888.9 174.4 888.9 177.9 888.5 180C888.1 182.1 886.8 183.3 884.5 185C882.2 186.7 878.2 188.5 874.5 190C870.8 191.5 864.9 192.7 862 193.8C859.1 194.8 856.2 196 857 196.2C857.8 196.5 862.4 195.3 867 195.5C871.6 195.7 878.7 197.6 884.5 197.5C890.3 197.4 896.6 196.2 902 195C907.4 193.8 912.4 191.2 917 190C921.6 188.8 926.2 187.3 929.5 187.5C932.8 187.7 935.7 189.2 937 191.2C938.3 193.3 938.3 196.9 937.5 200C936.7 203.1 935.4 207.1 932 210C928.6 212.9 921.2 215.6 917 217.5C912.8 219.4 910.3 219.2 907 221.2C903.7 223.3 898.7 228.5 897 230" fill="none" stroke="#a3a3a3" stroke-width="1.9" stroke-linejoin="round"/>
<path d="M802 181.2C802 179.4 812.4 175.2 817 172.5C821.6 169.8 825.3 166.7 829.5 165C833.7 163.3 838.2 162.5 842 162.5C845.8 162.5 847.8 164 852 165C856.2 166 862.8 167.9 867 168.8C871.2 169.6 874.9 168.5 877 170C879.1 171.5 879.9 175.2 879.5 177.5C879.1 179.8 877 182.3 874.5 183.8C872 185.2 868.2 186.5 864.5 186.2C860.8 186 855.8 183.8 852 182.5C848.2 181.2 845.8 179.2 842 178.8C838.2 178.3 833.7 179.2 829.5 180C825.3 180.8 821.6 183.5 817 183.8C812.4 184 802 183.1 802 181.2Z" fill="#c00000"/>
<path d="M839.5 175C840.8 174.2 845.8 173 849.5 172.5C853.2 172 858 171.8 862 172C866 172.2 871 172.6 873.2 173.8C875.5 174.9 876.2 177.1 875.8 178.8C875.3 180.4 873.2 182.7 870.8 183.8C868.2 184.8 864.1 185.4 860.8 185C857.4 184.6 853.9 182.5 850.8 181.2C847.6 180 843.9 178.5 842 177.5C840.1 176.5 838.2 175.8 839.5 175Z" fill="#800000"/>
<path d="M839.5 175C840.8 174.2 845.8 173 849.5 172.5C853.2 172 858 171.8 862 172C866 172.2 871 172.6 873.2 173.8C875.5 174.9 876.2 177.1 875.8 178.8C875.3 180.4 873.2 182.7 870.8 183.8C868.2 184.8 864.1 185.4 860.8 185C857.4 184.6 853.9 182.5 850.8 181.2C847.6 180 843.9 178.5 842 177.5C840.1 176.5 838.2 175.8 839.5 175Z" fill="none" stroke="#b9a0a0" stroke-width="1.2" stroke-linejoin="round"/>
<path d="M802 165C804.1 162.9 811.2 163.3 817 162.5C822.8 161.7 832.8 159.6 837 160C841.2 160.4 843.2 163.5 842 165C840.8 166.5 834.1 167.5 829.5 168.8C824.9 170 818.7 171.5 814.5 172.5C810.3 173.5 806.6 176.2 804.5 175C802.4 173.8 799.9 167.1 802 165Z" fill="#800000"/>
<path d="M791.5 205C791.5 203.5 792.8 200.6 794.5 198.8C796.2 196.9 799.7 194.4 802 193.8C804.3 193.1 807.1 194 808.2 195C809.4 196 810 198.3 809 200C808 201.7 804.4 203.7 802 205C799.6 206.3 796.2 208 794.5 208C792.8 208 791.5 206.5 791.5 205Z" fill="#ff6a0a"/>
<path d="M791.5 205C791.5 203.5 792.8 200.6 794.5 198.8C796.2 196.9 799.7 194.4 802 193.8C804.3 193.1 807.1 194 808.2 195C809.4 196 810 198.3 809 200C808 201.7 804.4 203.7 802 205C799.6 206.3 796.2 208 794.5 208C792.8 208 791.5 206.5 791.5 205Z" fill="none" stroke="#a3a3a3" stroke-width="1.9" stroke-linejoin="round"/>
<path d="M760.8 215C763 214.4 773 214.2 775.8 215C778.5 215.8 779.3 219.4 777 220C774.7 220.6 764.7 219.6 762 218.8C759.3 217.9 758.5 215.6 760.8 215Z" fill="#c00000"/>
<path d="M784.5 97.5C785.8 96.2 792.4 94.2 797 93.8C801.6 93.3 806.2 94.4 812 95C817.8 95.6 826.2 97 832 97.5C837.8 98 842.8 96.8 847 98C851.2 99.2 854.9 101.2 857 105C859.1 108.8 861.2 117.7 859.5 120.5C857.8 123.3 852 122 847 122C842 122 833.7 121.7 829.5 120.5C825.3 119.3 824.3 116.1 822 115C819.7 113.9 818.2 114.8 815.8 113.8C813.2 112.7 810.1 110.2 807 108.8C803.9 107.3 799.9 106.2 797 105C794.1 103.8 791.6 102.5 789.5 101.2C787.4 100 783.2 98.8 784.5 97.5Z" fill="#ffb400"/>
<path d="M917 77.5 L992 77.5 L992 105 L984 103.8 L967 105 L952 108.8 L939.5 115 L927 120.5 L917 120.5Z" fill="#ff8200"/>
<path d="M929.5 115C929.5 112.7 937.4 108.8 942 106.2C946.6 103.7 951.6 101.4 957 99.5C962.4 97.6 968.7 96.1 974.5 95C980.3 93.9 989.1 88.4 992 93C994.9 97.6 997.8 117.4 992 122.5C986.2 127.6 965.3 124.2 957 123.8C948.7 123.3 946.6 121.5 942 120C937.4 118.5 929.5 117.3 929.5 115Z" fill="#ff4500"/>
<path d="M942 112C942.4 109.7 947.8 105.8 952 103.8C956.2 101.7 960.3 100.5 967 99.5C973.7 98.5 987.8 94.2 992 97.5C996.2 100.8 997 115.7 992 119.5C987 123.3 969.1 120.8 962 120.5C954.9 120.2 952.8 118.9 949.5 117.5C946.2 116.1 941.6 114.3 942 112Z" fill="#c00000"/>
<path d="M955.8 111.2C955.8 109.4 960.5 106.5 964.5 105C968.5 103.5 974.9 102.8 979.5 102.5C984.1 102.2 989.9 100.7 992 103C994.1 105.3 994.1 113.8 992 116.2C989.9 118.7 984.1 117.5 979.5 117.5C974.9 117.5 968.5 117.3 964.5 116.2C960.5 115.2 955.8 113.1 955.8 111.2Z" fill="#800000"/>
<path d="M955.8 111.2C955.8 109.4 960.5 106.5 964.5 105C968.5 103.5 974.9 102.8 979.5 102.5C984.1 102.2 989.9 100.7 992 103C994.1 105.3 994.1 113.8 992 116.2C989.9 118.7 984.1 117.5 979.5 117.5C974.9 117.5 968.5 117.3 964.5 116.2C960.5 115.2 955.8 113.1 955.8 111.2Z" fill="none" stroke="#b9a0a0" stroke-width="1.2" stroke-linejoin="round"/>
<path d="M917 77.5 L992 77.5 L992 92.5 L984 92.5 L967 95 L952 98.8 L939.5 103.8 L932 107.5 L917 108.8Z" fill="#ffb400"/>
<path d="M917 77.5 L992 77.5 L992 88 L984 88.8 L967 90.5 L952 93 L942 96.2 L937 99.5 L917 101.2Z" fill="#ffdc00"/>
<path d="M942 77.5 L992 77.5 L992 78.8 L984 79.2 L974.5 80 L962 82 L953.2 85Z" fill="#ffff8c"/>
<path d="M927 108.8C929.5 107.2 936.2 102 942 99.5C947.8 97 955 95.2 962 93.8C969 92.2 980.3 91 984 90.5" fill="none" stroke="#a3a3a3" stroke-width="1.9" stroke-linejoin="round"/>
<path d="M939.5 114.5C941.6 112.9 947.4 107.4 952 105C956.6 102.6 961.7 101.2 967 100C972.3 98.8 981.2 97.9 984 97.5" fill="none" stroke="#a3a3a3" stroke-width="1.9" stroke-linejoin="round"/>
<path d="M789.6 199.9C789 198.1 791 192 792.9 189C794.9 186.1 798.5 184.5 801.2 182.4C804 180.3 806.5 178.7 809.6 176.6C812.6 174.5 815.6 172.4 819.5 169.9C823.4 167.4 830 160.8 832.8 161.6C835.6 162.5 838.1 171.3 836.1 174.9C834.2 178.5 825.3 181.2 821.2 183.2C817 185.3 814 186.4 811.2 187.4C808.4 188.4 806.5 188 804.6 189C802.6 190.1 800.9 191.7 799.6 193.5C798.3 195.3 798.3 198.8 796.6 199.9C794.9 200.9 790.2 201.7 789.6 199.9Z" fill="#c00000"/>
<path d="M791.6 197.4C791.5 196.1 793 192.2 794.6 189.9C796.2 187.5 798.8 185.3 801.2 183.2C803.7 181.2 806.5 179.5 809.6 177.4C812.6 175.3 815.9 173.1 819.5 170.8C823.1 168.5 828.9 163.5 831.2 163.6C833.4 163.8 834.8 168.8 832.8 171.6C830.9 174.4 823.4 178.1 819.5 180.2C815.6 182.4 812.3 183.6 809.6 184.6C806.8 185.6 804.8 185.2 802.9 186.2C801 187.2 799.2 188.9 797.9 190.7C796.6 192.6 796 196.3 794.9 197.4C793.9 198.5 791.7 198.6 791.6 197.4Z" fill="#800000"/>
<text transform="translate(148.7,91.2) rotate(0) scale(1.06,1)" font-family="Liberation Sans, sans-serif" font-size="20" text-anchor="middle" fill="#1e1405" stroke="#1e1405" stroke-width="0.35">1.6</text>
<text transform="translate(281.0,91.2) rotate(0) scale(1.06,1)" font-family="Liberation Sans, sans-serif" font-size="20" text-anchor="middle" fill="#1e1405" stroke="#1e1405" stroke-width="0.35">1.6</text>
<text transform="translate(447.0,92.2) rotate(0) scale(1.06,1)" font-family="Liberation Sans, sans-serif" font-size="20" text-anchor="middle" fill="#1e1405" stroke="#1e1405" stroke-width="0.35">.8</text>
<text transform="translate(583.0,94.2) rotate(0) scale(1.06,1)" font-family="Liberation Sans, sans-serif" font-size="20" text-anchor="middle" fill="#1e1405" stroke="#1e1405" stroke-width="0.35">.8</text>
<text transform="translate(526.0,108.2) rotate(-22) scale(1.06,1)" font-family="Liberation Sans, sans-serif" font-size="20" text-anchor="middle" fill="#1e1405" stroke="#1e1405" stroke-width="0.35">1.6</text>
<text transform="translate(402.0,110.2) rotate(0) scale(1.06,1)" font-family="Liberation Sans, sans-serif" font-size="20" text-anchor="middle" fill="#1e1405" stroke="#1e1405" stroke-width="0.35">1.6</text>
<text transform="translate(658.0,116.2) rotate(0) scale(1.06,1)" font-family="Liberation Sans, sans-serif" font-size="20" text-anchor="middle" fill="#1e1405" stroke="#1e1405" stroke-width="0.35">2.4</text>
<text transform="translate(485.0,202.2) rotate(0) scale(1.06,1)" font-family="Liberation Sans, sans-serif" font-size="20" text-anchor="middle" fill="#1e1405" stroke="#1e1405" stroke-width="0.35">3.2</text>
<text transform="translate(570.0,279.2) rotate(0) scale(1.06,1)" font-family="Liberation Sans, sans-serif" font-size="20" text-anchor="middle" fill="#1e1405" stroke="#1e1405" stroke-width="0.35">2.4</text>
<text transform="translate(255.0,328.2) rotate(0) scale(1.06,1)" font-family="Liberation Sans, sans-serif" font-size="20" text-anchor="middle" fill="#1e1405" stroke="#1e1405" stroke-width="0.35">2.4</text>
<text transform="translate(864.0,238.2) rotate(-10) scale(1.06,1)" font-family="Liberation Sans, sans-serif" font-size="20" text-anchor="middle" fill="#1e1405" stroke="#1e1405" stroke-width="0.35">2.4</text>
<text transform="translate(733.0,257.2) rotate(25) scale(1.06,1)" font-family="Liberation Sans, sans-serif" font-size="20" text-anchor="middle" fill="#1e1405" stroke="#1e1405" stroke-width="0.35">2.4</text>
<text transform="translate(701.0,338.2) rotate(0) scale(1.06,1)" font-family="Liberation Sans, sans-serif" font-size="20" text-anchor="middle" fill="#1e1405" stroke="#1e1405" stroke-width="0.35">1.6</text>
<text transform="translate(198.0,386.2) rotate(0) scale(1.06,1)" font-family="Liberation Sans, sans-serif" font-size="20" text-anchor="middle" fill="#1e1405" stroke="#1e1405" stroke-width="0.35">1.6</text>
<text transform="translate(314.0,424.2) rotate(0) scale(1.06,1)" font-family="Liberation Sans, sans-serif" font-size="20" text-anchor="middle" fill="#1e1405" stroke="#1e1405" stroke-width="0.35">1.6</text>
<text transform="translate(229.0,455.2) rotate(0) scale(1.06,1)" font-family="Liberation Sans, sans-serif" font-size="20" text-anchor="middle" fill="#1e1405" stroke="#1e1405" stroke-width="0.35">.8</text>
<text transform="translate(362.0,449.2) rotate(0) scale(1.06,1)" font-family="Liberation Sans, sans-serif" font-size="20" text-anchor="middle" fill="#1e1405" stroke="#1e1405" stroke-width="0.35">.8</text>
<text transform="translate(481.0,448.2) rotate(0) scale(1.06,1)" font-family="Liberation Sans, sans-serif" font-size="20" text-anchor="middle" fill="#1e1405" stroke="#1e1405" stroke-width="0.35">.8</text>
<text transform="translate(597.0,431.2) rotate(0) scale(1.06,1)" font-family="Liberation Sans, sans-serif" font-size="20" text-anchor="middle" fill="#1e1405" stroke="#1e1405" stroke-width="0.35">.8</text>
<text transform="translate(736.0,467.2) rotate(0) scale(1.06,1)" font-family="Liberation Sans, sans-serif" font-size="20" text-anchor="middle" fill="#1e1405" stroke="#1e1405" stroke-width="0.35">.8</text>
<text transform="translate(958.0,444.2) rotate(0) scale(1.06,1)" font-family="Liberation Sans, sans-serif" font-size="20" text-anchor="middle" fill="#1e1405" stroke="#1e1405" stroke-width="0.35">.8</text>
<text transform="translate(896.0,164.2) rotate(0) scale(1.06,1)" font-family="Liberation Sans, sans-serif" font-size="20" text-anchor="middle" fill="#1e1405" stroke="#1e1405" stroke-width="0.35">.8</text>
<text transform="translate(100.0,303.2) rotate(-20) scale(1.06,1)" font-family="Liberation Sans, sans-serif" font-size="20" text-anchor="middle" fill="#1e1405" stroke="#1e1405" stroke-width="0.35">2</text>
<text transform="translate(208.0,273.5) rotate(-55) scale(1.06,1)" font-family="Liberation Sans, sans-serif" font-size="18" text-anchor="middle" fill="#1e1405" stroke="#1e1405" stroke-width="0.35">.4</text>
<text transform="translate(254.0,245.8) rotate(-30) scale(1.06,1)" font-family="Liberation Sans, sans-serif" font-size="16" text-anchor="middle" fill="#1e1405" stroke="#1e1405" stroke-width="0.35">4</text>
<text transform="translate(778.0,306.5) rotate(40) scale(1.06,1)" font-family="Liberation Sans, sans-serif" font-size="18" text-anchor="middle" fill="#1e1405" stroke="#1e1405" stroke-width="0.35">2.</text>
<text transform="translate(857.0,279.5) rotate(0) scale(1.06,1)" font-family="Liberation Sans, sans-serif" font-size="18" text-anchor="middle" fill="#1e1405" stroke="#1e1405" stroke-width="0.35">4</text>
<text transform="translate(375.0,384.1) rotate(0) scale(1.06,1)" font-family="Liberation Sans, sans-serif" font-size="17" text-anchor="middle" fill="#1e1405" stroke="#1e1405" stroke-width="0.35">6</text>
<text transform="translate(431.0,391.1) rotate(0) scale(1.06,1)" font-family="Liberation Sans, sans-serif" font-size="17" text-anchor="middle" fill="#1e1405" stroke="#1e1405" stroke-width="0.35">8</text>
<text transform="translate(862.0,373.1) rotate(60) scale(1.06,1)" font-family="Liberation Sans, sans-serif" font-size="17" text-anchor="middle" fill="#1e1405" stroke="#1e1405" stroke-width="0.35">5</text>
<text transform="translate(384.0,207.5) rotate(0) scale(1.06,1)" font-family="Liberation Sans, sans-serif" font-size="18" text-anchor="middle" fill="#1e1405" stroke="#1e1405" stroke-width="0.35">3</text>
<text transform="translate(781.0,234.8) rotate(30) scale(1.06,1)" font-family="Liberation Sans, sans-serif" font-size="16" text-anchor="middle" fill="#1e1405" stroke="#1e1405" stroke-width="0.35">2</text>
<text transform="translate(958.0,282.1) rotate(10) scale(1.06,1)" font-family="Liberation Sans, sans-serif" font-size="17" text-anchor="middle" fill="#1e1405" stroke="#1e1405" stroke-width="0.35">8.</text>
<text transform="translate(348.0,97.0) rotate(0) scale(1.06,1)" font-family="Liberation Sans, sans-serif" font-size="14" text-anchor="middle" fill="#1e1405" stroke="#1e1405" stroke-width="0.35">2</text>
<text transform="translate(924.0,114.0) rotate(-30) scale(1.06,1)" font-family="Liberation Sans, sans-serif" font-size="14" text-anchor="middle" fill="#1e1405" stroke="#1e1405" stroke-width="0.35">1.5</text>
<text transform="translate(700.0,100.3) rotate(0) scale(1.06,1)" font-family="Liberation Sans, sans-serif" font-size="12" text-anchor="middle" fill="#1e1405" stroke="#1e1405" stroke-width="0.35">6</text>
<path d="M67.5 466.2 L80 466.2 L95 465 L110 464.5 L125 465 L140 463.8 L152.5 462 L157.5 460 L165 462 L175 460 L190 458 L200 456.2 L207 455 L215 457 L225 458 L235 458.8 L245 460.5 L253.8 464.5 L260 461.2 L270 458 L285 456.2 L300 455.5 L315 456.2 L326 455 L341 453.8 L356 455.5 L376 456.2 L396 455 L413.5 455 L433.5 456.2 L446 459.5 L456 462 L471 463.8 L486 466.2 L501 467 L508 468.8 L501 472.5 L491 476.2 L488.5 481.2 L491 485 L483.5 487.5 L481 491.2 L488.5 495 L501 497.5 L526 500 L551 502.5 L582 503.8 L597 505 L615.8 502.5 L602 498.8 L595.8 495 L604.5 492.5 L618.2 492.5 L614.5 488.8 L597 486.2 L585.8 482.5 L597 483 L607 481.2 L617 480 L632 478.8 L647 477.5 L659.5 477.5 L667 475 L677 473.8 L687 474.5 L699.5 475 L712 475 L727 474.5 L732 471.2 L742 471.2 L757 472.5 L777 472 L792 470 L799.5 465 L807 462.5 L814.5 462 L822 462.5 L828.2 466.2 L832 472.5 L828.2 477.5 L822 480 L815.8 482 L824.5 482.5 L842 483.8 L867 486.2 L889.5 486.2 L902 482.5 L917 477.5 L932 473.8 L947 470 L967 467.5 L984 466.2 L992 465.8 L995 515 L60 515Z" fill="#8b8b8b" stroke="#3a3a3a" stroke-width="0.9" stroke-linejoin="round"/>
<path d="M572.2 487 L580.5 486.2 L581 490 L573.5 491Z" fill="#8b8b8b" stroke="#3a3a3a" stroke-width="0.9" stroke-linejoin="round"/>
<path d="M497.2 482 L504.8 482 L504.8 484 L497.2 484Z" fill="#8b8b8b" stroke="#3a3a3a" stroke-width="0.9" stroke-linejoin="round"/>
<path d="M810.8 455 L819.5 451.2 L820.8 453 L812.5 456.8Z" fill="#8b8b8b" stroke="#3a3a3a" stroke-width="0.9" stroke-linejoin="round"/>
<path d="M823.2 450 L832.5 446.2 L834 448 L825 452Z" fill="#8b8b8b" stroke="#3a3a3a" stroke-width="0.9" stroke-linejoin="round"/>
<path d="M834.5 445.5 L841.5 443.8 L842 445.5 L835.8 447.5Z" fill="#8b8b8b" stroke="#3a3a3a" stroke-width="0.9" stroke-linejoin="round"/>
<path d="M794.5 465C795.1 463.8 799.5 462.6 802 462.5C804.5 462.4 808.7 463.5 809.5 464.5C810.3 465.5 808.9 467.9 807 468.8C805.1 469.6 800.3 470.1 798.2 469.5C796.2 468.9 793.9 466.2 794.5 465Z" fill="#8b8b8b" stroke="#3a3a3a" stroke-width="0.9" stroke-linejoin="round"/>
<path d="M65 162 L78 162 L87.5 157 L93.8 153 L95 148 L93 143 L91.5 137.5 L93 132.5 L97.5 128.8 L103.8 125 L111.2 120.5 L118.8 115.8 L126.2 112 L136.2 110.5 L145 110.5 L152.5 112 L160 114.5 L168.8 115 L175 116.2 L180 117.5 L183.8 120.5 L190 117.5 L200 116.2 L210 115 L217.5 113.8 L230 112.5 L242.5 112.5 L248.8 116.2 L255 122 L258 120.5 L257.5 115 L255 107.5 L260 103.8 L267.5 106.2 L275 107.5 L282.5 106.2 L287.5 103.8 L295 101.2 L305 98.8 L316.2 96.2 L326 95.5 L326 95 L333.5 92 L341 93.8 L351 96.2 L363.5 98 L366 101.2 L376 103.8 L388.5 103.8 L401 105 L408.5 108.8 L421 108 L431 105 L441 106.2 L451 107.5 L461 111.2 L476 113 L488.5 113 L501 113.8 L516 113 L531 113.8 L538.5 116.2 L546 118.8 L554 121.2 L551 125 L541 124.5 L531 126.2 L528.5 129.5 L518.5 131.2 L508.5 134.5 L501 137 L493 140.5 L489.8 146.2 L484.8 151.2 L478.5 155.5 L472.2 158.8 L470.2 157 L469.8 151.2 L470.5 145 L473.5 141.2 L478.5 138.8 L483.5 135.5 L488 132 L481 133 L473.5 134.5 L466 138.8 L456 140 L446 141.2 L436 142.5 L428.5 145.5 L422.2 149.5 L426 151.2 L433.5 152.5 L437.2 155 L436 162.5 L434.8 167.5 L431 171.2 L424.8 177.5 L418.5 182.5 L412.2 186.2 L406 188.8 L401 191.2 L399.8 195 L402.2 198.8 L406 202.5 L403.5 205 L398.5 202.5 L397.2 197.5 L398.5 193.8 L393.5 194.5 L386 190 L382.2 187.5 L376 190 L379.8 193.8 L384.8 197.5 L386.5 202.5 L384.8 207.5 L386 215 L384 221.2 L382.2 210 L379.8 217.5 L372.2 226.2 L363.5 232.5 L353.5 235 L346 237.5 L344.8 242.5 L348.5 250 L352.2 257.5 L349.8 262.5 L343.5 266.2 L337.2 260 L331 256.2 L328.5 262.5 L329.8 272.5 L334.8 280 L339.8 286.2 L333.5 280 L328.5 272.5 L326 266.2 L322.5 253.8 L320 247.5 L316.2 241.2 L310 235 L305 233.8 L297.5 237.5 L290 242.5 L283.8 250 L280 258.8 L277.5 268.8 L272.5 263.8 L267.5 256.2 L263.8 250 L261.2 243.8 L255 237.5 L250.5 232 L245 225 L230 225 L220 223.8 L223.8 226.2 L228.8 231.2 L226.2 237.5 L220 243.8 L210 248.8 L200 253.8 L190 257 L197.5 260 L207 258.2 L203.8 267.5 L195 280 L182.5 293.8 L178.8 298.8 L179.5 310 L181.2 323.8 L180 326.2 L170 336.2 L167.5 346.2 L161.2 353.8 L152.5 366.2 L150 371.2 L140 373.8 L130 375 L126.2 373.8 L123.8 367.5 L120 357.5 L115 352.5 L111.2 342.5 L107.5 332.5 L108.8 325 L111.2 316.2 L110 307.5 L106.2 300 L103.8 293.8 L102.5 286.2 L101.2 279.5 L92.5 275 L85 272.5 L78 272.5 L65 272.5Z" fill="#8b8b8b" stroke="#3a3a3a" stroke-width="0.9" stroke-linejoin="round"/>
<path d="M992 137.5 L984 138.8 L977 141.2 L972 145 L974.5 151.2 L970.8 155 L973.2 160 L969.5 163 L974.5 166.2 L984 167.5 L992 168Z" fill="#8b8b8b" stroke="#3a3a3a" stroke-width="0.9" stroke-linejoin="round"/>
<path d="M960 151.2C960.8 150 963 148.9 964.5 148.8C966 148.6 968.4 149.2 969 150.5C969.6 151.8 969.2 154.9 968.2 156.2C967.3 157.6 964.7 158.8 963.2 158.8C961.8 158.8 960 157.5 959.5 156.2C959 155 959.2 152.5 960 151.2Z" fill="#8b8b8b" stroke="#3a3a3a" stroke-width="0.9" stroke-linejoin="round"/>
<path d="M992 177.5 L984 178 L974.5 178.8 L964.5 178 L961.5 181.2 L962.5 190 L964.5 197 L970.8 198 L979.5 195 L984 193.8 L992 192.5Z" fill="#8b8b8b" stroke="#3a3a3a" stroke-width="0.9" stroke-linejoin="round"/>
<path d="M992 200 L984 199.5 L970.8 200 L964.5 205 L960.8 211.2 L957 217.5 L953.2 225.8 L949.5 223.8 L945.8 230 L942 237.5 L941.5 246.2 L942 253.8 L945.8 260 L950.8 266.2 L957 271.2 L964.5 275 L974.5 275 L984 273.8 L992 273.8Z" fill="#8b8b8b" stroke="#3a3a3a" stroke-width="0.9" stroke-linejoin="round"/>
<path d="M924.5 124.5C924.9 123.1 929.1 121.8 932 121.2C934.9 120.7 938.9 120.8 942 121.2C945.1 121.7 949.7 122.5 950.8 123.8C951.8 125 950.1 127.7 948.2 128.8C946.4 129.8 942.6 129.9 939.5 130C936.4 130.1 932 130.4 929.5 129.5C927 128.6 924.1 125.9 924.5 124.5Z" fill="#8b8b8b" stroke="#3a3a3a" stroke-width="0.9" stroke-linejoin="round"/>
<path d="M107.5 88.8C108.8 87.5 115.8 86.2 120 86.2C124.2 86.2 130.8 87.7 132.5 88.8C134.2 89.8 131.7 91.5 130 92.5C128.3 93.5 125.4 94.8 122.5 95C119.6 95.2 115 94.8 112.5 93.8C110 92.7 106.2 90 107.5 88.8Z" fill="#8b8b8b" stroke="#3a3a3a" stroke-width="0.9" stroke-linejoin="round"/>
<path d="M211.2 108.8 L215 103 L225 98.8 L240 95.8 L250.5 94.5 L248.8 97.5 L240 99.5 L228.8 102.5 L221.2 106.2 L217.5 110.5Z" fill="#8b8b8b" stroke="#3a3a3a" stroke-width="0.9" stroke-linejoin="round"/>
<path d="M190 85 L205 84.5 L205 86.5 L190.5 87Z" fill="#8b8b8b" stroke="#3a3a3a" stroke-width="0.9" stroke-linejoin="round"/>
<path d="M213.8 84.5 L242.5 83 L242.5 86 L214.5 87Z" fill="#8b8b8b" stroke="#3a3a3a" stroke-width="0.9" stroke-linejoin="round"/>
<path d="M307.5 86.2 L326 83.8 L333.5 86.2 L338.5 90 L331 92.5 L310 90Z" fill="#8b8b8b" stroke="#3a3a3a" stroke-width="0.9" stroke-linejoin="round"/>
<path d="M422.2 99.5C423.4 98.4 427.7 96.6 431 96.2C434.3 95.9 440.6 96.5 442.2 97.5C443.9 98.5 442.9 101.5 441 102.5C439.1 103.5 433.8 103.7 431 103.8C428.2 103.8 425.5 103.7 424 103C422.5 102.3 421.1 100.6 422.2 99.5Z" fill="#8b8b8b" stroke="#3a3a3a" stroke-width="0.9" stroke-linejoin="round"/>
<ellipse cx="489.5" cy="112.5" rx="4.5" ry="1.6" fill="#fff" stroke="#555" stroke-width="0.6"/>
<path d="M435.2 153.8 L438.5 153 L439.8 162.5 L438.5 172.5 L436 172 L436 162.5Z" fill="#8b8b8b" stroke="#3a3a3a" stroke-width="0.9" stroke-linejoin="round"/>
<path d="M433.5 177.5C434.1 176.2 436.8 174.5 438.5 174.5C440.2 174.5 443.1 176.2 443.5 177.5C443.9 178.8 442.5 181.2 441 182C439.5 182.8 436 183.2 434.8 182.5C433.5 181.8 432.9 178.8 433.5 177.5Z" fill="#8b8b8b" stroke="#3a3a3a" stroke-width="0.9" stroke-linejoin="round"/>
<path d="M407.2 205 L412.2 201.2 L419.8 197.5 L426 193.8 L431 188.8 L434 185 L436.5 187 L434 193.8 L429.8 198 L423.5 201.2 L416 204.5 L409.8 208Z" fill="#8b8b8b" stroke="#3a3a3a" stroke-width="0.9" stroke-linejoin="round"/>
<path d="M402.2 206.2C403.1 205.5 406.5 205.4 407.2 206.2C408 207.1 407.3 210.5 406.5 211.2C405.7 212 403 211.3 402.2 210.5C401.5 209.7 401.4 207 402.2 206.2Z" fill="#8b8b8b" stroke="#3a3a3a" stroke-width="0.9" stroke-linejoin="round"/>
<path d="M380.5 225C381.2 224.2 384.2 225 384.8 226.2C385.3 227.5 384.7 231.7 384 232.5C383.3 233.3 381.1 232.5 380.5 231.2C379.9 230 379.8 225.8 380.5 225Z" fill="#8b8b8b" stroke="#3a3a3a" stroke-width="0.9" stroke-linejoin="round"/>
<path d="M351 237C352 236 356.8 235.4 358 236.2C359.2 237.1 359.5 241 358.5 242C357.5 243 353.5 243.3 352.2 242.5C351 241.7 350 238 351 237Z" fill="#8b8b8b" stroke="#3a3a3a" stroke-width="0.9" stroke-linejoin="round"/>
<path d="M379.8 241.2 L386 242 L388 250 L386 257.5 L381.5 253.8 L380.5 247.5Z" fill="#8b8b8b" stroke="#3a3a3a" stroke-width="0.9" stroke-linejoin="round"/>
<path d="M384.8 257 L391.5 256.2 L396 261.2 L398.5 268.8 L396 274.5 L389.8 273.8 L387.2 267.5 L384 262.5Z" fill="#8b8b8b" stroke="#3a3a3a" stroke-width="0.9" stroke-linejoin="round"/>
<path d="M353.5 286.2 L357.2 280 L366 275 L373.5 271.2 L377.8 275 L376 282.5 L377.2 288.8 L373.5 296.2 L363.5 298 L356 295 L352.2 290Z" fill="#8b8b8b" stroke="#3a3a3a" stroke-width="0.9" stroke-linejoin="round"/>
<path d="M317 274.2 L322.2 275 L331 282.5 L341 292.5 L347.2 300 L346 303.5 L339.8 301.2 L331 293.8 L323.5 285 L317 278.8Z" fill="#8b8b8b" stroke="#3a3a3a" stroke-width="0.9" stroke-linejoin="round"/>
<path d="M342.2 303.2 L353.5 303 L366 306.2 L379.8 307.5 L398.5 308.8 L399 311.2 L381 310.5 L366 309.5 L351 307.5 L342.5 306Z" fill="#8b8b8b" stroke="#3a3a3a" stroke-width="0.9" stroke-linejoin="round"/>
<path d="M379.8 285 L384.8 283 L391.5 283.8 L386 287.5 L388.5 293 L391.5 298.8 L388 300.5 L385.5 296.2 L383 302.5 L379.8 301.2 L381.5 293.8Z" fill="#8b8b8b" stroke="#3a3a3a" stroke-width="0.9" stroke-linejoin="round"/>
<path d="M408.5 290.5 L413.5 288.8 L419 292.5 L422.2 296.2 L426 293.8 L436 293 L446 296.2 L453.5 300 L457.2 305 L453.5 307.5 L456 313.8 L449.8 312.5 L443.5 308.8 L436 310 L428.5 307.5 L424.8 301.2 L418.5 298 L411 296.2Z" fill="#8b8b8b" stroke="#3a3a3a" stroke-width="0.9" stroke-linejoin="round"/>
<path d="M451 298 L458.5 296.2 L463 298 L462.2 301.2 L456 302Z" fill="#8b8b8b" stroke="#3a3a3a" stroke-width="0.9" stroke-linejoin="round"/>
<path d="M467.2 302.0 L473.5 305.0" stroke="#3a3a3a" stroke-width="1.5"/>
<path d="M476.0 306.2 L486.0 313.8" stroke="#3a3a3a" stroke-width="1.5"/>
<path d="M498.0 326.2 L500.5 330.5" stroke="#3a3a3a" stroke-width="1.5"/>
<path d="M491.5 339.5 L498.5 344.5" stroke="#3a3a3a" stroke-width="1.5"/>
<path d="M524.8 332.0 L531.0 328.8" stroke="#3a3a3a" stroke-width="1.5"/>
<path d="M549.2 322.0 L552.2 323.8" stroke="#3a3a3a" stroke-width="1.5"/>
<path d="M278.8 266.2 L282.5 265.5 L284.5 270 L282 274 L279 271.2Z" fill="#8b8b8b" stroke="#3a3a3a" stroke-width="0.9" stroke-linejoin="round"/>
<path d="M202.5 319.5 L205.5 327.5 L201.2 340 L196.2 350.5 L192.5 352.5 L188 346.2 L187.5 336.2 L191.2 330 L196.2 323.8Z" fill="#8b8b8b" stroke="#3a3a3a" stroke-width="0.9" stroke-linejoin="round"/>
<path d="M364.8 348.8 L368.5 342.5 L378.5 340 L387.2 335 L393.5 330 L401 325 L408.5 317.5 L412.2 317.5 L418.5 320 L422.2 323.8 L423.5 330 L433.5 332 L434.8 317.5 L437.2 315.5 L438.5 325 L444.8 332.5 L451 340 L457.2 348.8 L462.2 357.5 L464.8 366.2 L464.8 362.5 L462.2 370 L459.8 377.5 L456 382.5 L451 385 L444.8 386.2 L439.8 382.5 L433.5 383.8 L428.5 380 L424.8 375 L418.5 370 L408.5 368 L398.5 368.8 L388.5 371.2 L378.5 375 L371 373.8 L367.2 365 L366 355 L364.8 345Z" fill="#8b8b8b" stroke="#3a3a3a" stroke-width="0.9" stroke-linejoin="round"/>
<path d="M443 392C443.9 390.9 449.8 390.4 451 391.2C452.2 392.1 451.4 395.9 450.5 397C449.6 398.1 446.8 398.8 445.5 398C444.2 397.2 442.1 393.1 443 392Z" fill="#8b8b8b" stroke="#3a3a3a" stroke-width="0.9" stroke-linejoin="round"/>
<path d="M514.8 377.5 L519.8 382.5 L527.2 383.8 L523.5 390 L518.5 392.5 L516 388.8 L517.2 383.8Z" fill="#8b8b8b" stroke="#3a3a3a" stroke-width="0.9" stroke-linejoin="round"/>
<path d="M517.2 391.2 L513.5 396.2 L508.5 401.2 L502.2 406.2 L498.5 405 L501 401.2 L507.2 396.2 L512.2 392.5Z" fill="#8b8b8b" stroke="#3a3a3a" stroke-width="0.9" stroke-linejoin="round"/>
<path d="M529.8 397 L539.8 397.5 L539.8 399.5 L529.8 399Z" fill="#8b8b8b" stroke="#3a3a3a" stroke-width="0.9" stroke-linejoin="round"/>
<path d="M566 113.8 L573.5 112 L582 111.2 L597 112 L612 113 L627 113.8 L639.5 115 L652 111.2 L664.5 108.8 L668.2 105 L672 102.5 L673.2 98.8 L675.6 94.5 L693.2 91.5 L708.9 90.5 L718.6 88.6 L746 84.7 L761.6 81.8 L787 79.8 L816.4 79.8 L836 82.7 L832 85 L818.2 86.6 L807 88.8 L796.8 90 L789 94.5 L783.2 99.2 L787 102.2 L796.8 105.2 L808.5 109.1 L816.4 112 L826.2 116 L836 118.9 L842 120.5 L839.9 120.8 L832 123.8 L826.2 126.7 L822.2 130.6 L818.2 133 L813.2 134.5 L817 137 L826.2 144.2 L836 152 L843.2 157.5 L845.8 162.5 L842 165 L837 163 L832 164.5 L830 165.5 L817.8 173.2 L809.5 178.2 L804.5 181.5 L799.5 185.8 L793.5 191.5 L793.5 198.2 L786.2 206.5 L781.2 213.2 L783 219.8 L782.2 225.5 L782 225 L778.2 220 L775.8 212.5 L772 215.5 L762 214.5 L752 213.8 L742 216.2 L739.5 218.8 L738.2 227.5 L740.8 236.2 L747 241.2 L754.5 240 L758.2 235 L765.8 233.8 L765.8 235 L764.5 243.8 L763.2 248.8 L767 247.5 L774.8 248 L775.8 250 L775.8 257.5 L777 263.8 L782 266.2 L789.5 265.5 L794.5 264.5 L798.2 262.5 L804.5 259.5 L810.8 261.2 L819.5 260 L828.2 262.5 L834.5 267.5 L842 271.2 L849.5 275 L854.5 280 L859.5 286.2 L867 290 L877 293.8 L887 297.5 L894.5 302.5 L897 307.5 L894.5 315 L889.5 323.8 L885.8 332.5 L884.5 340 L879.5 346.2 L872 350 L864.5 353.8 L859.5 360 L855.8 370.8 L862 357.5 L854.5 367.5 L847 373.8 L839.5 376.2 L832 383.8 L827 387.5 L820.8 393.8 L823.2 398.8 L818.2 405 L814.5 411.2 L810.8 418.8 L817 425 L812 427.5 L804.5 425 L798.2 421.2 L794.5 415 L794.5 407.5 L797 400 L798.2 390 L799.5 380 L800.8 370 L803.2 357.5 L805.8 345 L805.8 355 L807 342.5 L802 335 L794.5 326.2 L789.5 317.5 L784.5 307.5 L779.5 298.8 L782 295 L784.5 287.5 L788.2 280 L790.8 271.2 L790.8 271.2 L789.5 267.5 L784.5 270 L779.5 268.8 L774.5 265 L769.5 261.2 L762 256.2 L754.5 252.5 L744.5 250 L734.5 247.5 L725.8 242.5 L719.5 236.2 L714.5 227.5 L708.2 217.5 L702 208.8 L698.2 211.2 L704.5 220 L710 230 L707 229.5 L699.5 220 L694.5 210 L688.2 205 L680.8 200 L689.5 208.8 L684.5 205 L679.5 198.8 L675.8 192.5 L672.5 186.2 L671.5 180 L673.2 172.5 L672 166.2 L667 162.5 L659.5 158.8 L652 153.8 L647.5 147.5 L642 142.5 L632 138.8 L617 136.2 L607 135.5 L597 137.5 L582 141.2 L573.5 141.2 L566 137.5 L569.8 130 L563.5 125 L569.8 120.5 L563.5 117.5Z" fill="#8b8b8b" stroke="#3a3a3a" stroke-width="0.9" stroke-linejoin="round"/>
<path d="M581.8 147.5C580 148.1 574.9 150.1 571 151.2C567.1 152.4 562.7 153.7 558.5 154.5C554.3 155.3 549.8 155.7 546 156.2C542.2 156.8 537.7 157.7 536 158" fill="none" stroke="#4a4a4a" stroke-width="0.9" stroke-dasharray="3 2"/>
<path d="M582 232.5C582.8 232.7 585.3 233 587 233.8C588.7 234.5 591 236 592 237C593 238 593 239.5 593.2 240" fill="none" stroke="#3a3a3a" stroke-width="1.2"/>
<path d="M827 82 L842 80 L867 79.5 L892 79.2 L917 79.5 L932 80.5 L947 82.5 L953.2 84.5 L942 88.8 L937 95 L934.5 101.2 L927 106.2 L922 111.2 L914.5 116.2 L907 119.5 L897 121.2 L887 125 L880.8 130 L875.8 136.2 L874 138 L867 135 L860.8 130 L854.5 123.8 L850.8 117.5 L848.2 111.2 L844.5 105 L839.5 100 L832 96.2 L824.5 92.5 L817 90 L812 87.5 L817 84.5Z" fill="#8b8b8b" stroke="#3a3a3a" stroke-width="0.9" stroke-linejoin="round"/>
<path d="M671.8 99.2C674.7 99.8 683.1 101.6 689.2 102.2C695.4 102.9 703.5 103.2 708.8 103.2C714 103.2 715.6 102.9 720.5 102.2C725.4 101.6 734 100 738.2 99.2C742.5 98.5 743.7 97.5 746 97.5C748.3 97.5 749.4 99.2 752 99.2C754.6 99.2 758.4 97.7 761.8 97.5C765.1 97.3 768.4 98 772 98C775.6 98 781.4 97.6 783.2 97.5" fill="none" stroke="#4a4228" stroke-width="4.2" stroke-linecap="round" stroke-linejoin="round"/>
<path d="M720.5 103.2C721.2 104.2 722.2 107.5 724.5 109C726.8 110.5 731.3 111.7 734.2 112C737.2 112.3 740.4 112.1 742 111C743.6 109.9 744.3 107.2 744 105.2C743.7 103.3 740.7 100.2 740 99.2" fill="none" stroke="#4a4228" stroke-width="4.2" stroke-linecap="round" stroke-linejoin="round"/>
<path d="M750 107C751.3 107.7 755.2 109.5 757.8 111C760.3 112.5 763.7 114.8 765.5 116C767.3 117.2 768 117.7 768.5 118" fill="none" stroke="#4a4228" stroke-width="4.2" stroke-linecap="round" stroke-linejoin="round"/>
<path d="M753.8 107C755 106.2 758.9 103 761.5 102.2C764.1 101.5 765.9 102.4 769.5 102.2C773.1 102.1 781 101.4 783.2 101.2" fill="none" stroke="#4a4228" stroke-width="4.2" stroke-linecap="round" stroke-linejoin="round"/>
<path d="M796.8 89.5C798.5 89.2 803.4 88.2 807 87.8C810.6 87.2 816.4 86.7 818.2 86.5" fill="none" stroke="#4a4228" stroke-width="4.2" stroke-linecap="round" stroke-linejoin="round"/>
<path d="M671.8 99.2C674.7 99.8 683.1 101.6 689.2 102.2C695.4 102.9 703.5 103.2 708.8 103.2C714 103.2 715.6 102.9 720.5 102.2C725.4 101.6 734 100 738.2 99.2C742.5 98.5 743.7 97.5 746 97.5C748.3 97.5 749.4 99.2 752 99.2C754.6 99.2 758.4 97.7 761.8 97.5C765.1 97.3 768.4 98 772 98C775.6 98 781.4 97.6 783.2 97.5" fill="none" stroke="#ffdc00" stroke-width="2.8" stroke-linecap="round" stroke-linejoin="round"/>
<path d="M720.5 103.2C721.2 104.2 722.2 107.5 724.5 109C726.8 110.5 731.3 111.7 734.2 112C737.2 112.3 740.4 112.1 742 111C743.6 109.9 744.3 107.2 744 105.2C743.7 103.3 740.7 100.2 740 99.2" fill="none" stroke="#ffdc00" stroke-width="2.8" stroke-linecap="round" stroke-linejoin="round"/>
<path d="M750 107C751.3 107.7 755.2 109.5 757.8 111C760.3 112.5 763.7 114.8 765.5 116C767.3 117.2 768 117.7 768.5 118" fill="none" stroke="#ffdc00" stroke-width="2.8" stroke-linecap="round" stroke-linejoin="round"/>
<path d="M753.8 107C755 106.2 758.9 103 761.5 102.2C764.1 101.5 765.9 102.4 769.5 102.2C773.1 102.1 781 101.4 783.2 101.2" fill="none" stroke="#ffdc00" stroke-width="2.8" stroke-linecap="round" stroke-linejoin="round"/>
<path d="M796.8 89.5C798.5 89.2 803.4 88.2 807 87.8C810.6 87.2 816.4 86.7 818.2 86.5" fill="none" stroke="#ffdc00" stroke-width="2.8" stroke-linecap="round" stroke-linejoin="round"/>
<path d="M699.5 92.5C701.6 92.6 708.2 92.6 712 93C715.8 93.4 720.3 94.7 722 95" fill="none" stroke="#4a4a4a" stroke-width="0.9" stroke-linecap="round" stroke-linejoin="round"/>
<path d="M732 92.5C733 92.9 736.6 95 738.2 95C739.9 95 740.3 92.7 742 92.5C743.7 92.3 747.2 93.5 748.2 93.8" fill="none" stroke="#4a4a4a" stroke-width="0.9" stroke-linecap="round" stroke-linejoin="round"/>
<path d="M757 90C759.5 89.6 767.8 87.7 772 87.5C776.2 87.3 780.3 88.5 782 88.8" fill="none" stroke="#4a4a4a" stroke-width="0.9" stroke-linecap="round" stroke-linejoin="round"/>
<path d="M667 107 L677 105.8 L688.2 108.8 L692 111.2 L682 113 L669.5 112Z" fill="#ff8200" stroke="#3a3a3a" stroke-width="0.6" stroke-linejoin="round"/>
<path d="M777.2 115 L785 113.2 L796.8 117 L799.8 119.8 L795 124.8 L785 126.8 L777.2 124.8 L775.2 120.8Z" fill="#ff8200" stroke="#3a3a3a" stroke-width="0.6" stroke-linejoin="round"/>
<path d="M785 127.8 L796.8 128.8 L808.5 131.5 L816.2 134.5 L822.2 130.5 L826.2 126.8 L832 123.8 L839.8 120.8 L844.5 123.8 L832 130 L822 136.2 L814.5 140.2 L808.5 136.5 L796.8 132.5 L787 129.8Z" fill="#ff8200" stroke="#3a3a3a" stroke-width="0.6" stroke-linejoin="round"/>
<path d="M747 135.5 L752 133.5 L757.8 129.5 L765.5 126.8 L773.5 128.8 L785 130.5 L788 134.5 L788 142.2 L790 147.2 L787 150.2 L785 156 L781.2 157 L779.2 152 L769.5 148.2 L761.8 145.2 L752 143.2 L748 140.2Z" fill="#ff4500" stroke="#3a3a3a" stroke-width="0.7" stroke-linejoin="round"/>
<path d="M748 140.2 L752 133.5 L757.8 129.5 L765.5 127.5 L754.5 138.8 L752 143.2Z" fill="#ff6a0a"/>
<path d="M757 143.8 L772 142 L788 138.8 L788 142.2 L790 147.2 L787 150.2 L785 156 L781.2 157 L779.2 152 L769.5 148.2 L761.8 145.2Z" fill="#c00000"/>
<path d="M779.5 150 L785.8 146.2 L789.5 147.5 L787 150.2 L785 156 L781.2 157Z" fill="#800000"/>
<path d="M754.5 136.2C756.6 135.8 762.8 134 767 133.8C771.2 133.5 776.1 134.2 779.5 134.5C782.9 134.8 786.2 135.3 787.5 135.5" fill="none" stroke="#a3a3a3" stroke-width="1.0" stroke-linejoin="round"/>
<path d="M757 143.5C759.5 143.2 766.8 142.8 772 142C777.2 141.2 785.3 139.5 788 139" fill="none" stroke="#a3a3a3" stroke-width="1.0" stroke-linejoin="round"/>
<circle cx="749.0" cy="137.5" r="1.6" fill="#ff6a0a" stroke="#3a3a3a" stroke-width="0.6"/>
<path d="M770 232 L779.5 230 L789.5 233.8 L797.8 237 L796.5 238.2 L787 236.2 L778.2 233.8 L770.8 233.8Z" fill="#8b8b8b" stroke="#3a3a3a" stroke-width="0.9" stroke-linejoin="round"/>
<path d="M797 238 L807 237.5 L813.2 241.2 L807 243 L798.2 241.2Z" fill="#8b8b8b" stroke="#3a3a3a" stroke-width="0.9" stroke-linejoin="round"/>
<path d="M787 241.2 L792 241.5 L791.5 243.2 L787.5 243Z" fill="#8b8b8b" stroke="#3a3a3a" stroke-width="0.9" stroke-linejoin="round"/>
<path d="M814.5 241.5 L818.5 241.8 L818.2 243.2 L814.8 243Z" fill="#8b8b8b" stroke="#3a3a3a" stroke-width="0.9" stroke-linejoin="round"/>
<path d="M784.5 222.0 L788.2 225.0" stroke="#3a3a3a" stroke-width="1.3"/>
<path d="M789.0 225.0 L793.2 229.5" stroke="#3a3a3a" stroke-width="1.3"/>
<path d="M793.2 230.0 L794.5 232.0" stroke="#3a3a3a" stroke-width="1.3"/>
<path d="M819.5 242.5 L828.2 244.5" stroke="#3a3a3a" stroke-width="1.3"/>
<path d="M830.8 417.5 L837 417 L837.5 419.2 L831 419.5Z" fill="#8b8b8b" stroke="#3a3a3a" stroke-width="0.9" stroke-linejoin="round"/>
<path d="M64.7 186.1 L79.7 186.1 L87.6 181.7 L96.3 179 L102.5 178.2 L106 180.8 L111.3 181.7 L117.4 186.4 L122.7 189.9 L124.8 193.1 L128 188.2 L135 188.7 L137.6 186.1 L142 187.8 L144.6 191.3 L147.3 195.7 L154.3 197.5 L161.3 196.6 L168.3 195.7 L168.7 201.9 L166.6 207.1 L161.3 209.8 L152.5 209.8 L145.5 208.9 L138.5 208 L133.2 207.1 L128.8 209.8 L126.2 212.4 L120.9 209.8 L114.8 208 L107.8 205.4 L105.1 201 L106 196.6 L101.6 194.8 L94.6 195.7 L87.6 195.7 L79.7 196.6 L64.7 196.9Z" fill="#c80000" stroke="#3a3a3a" stroke-width="0.9" stroke-linejoin="round"/>
<path d="M992 195 L984 194.5 L979.5 195.5 L972 198.8 L984 200 L992 200Z" fill="#ff4500" stroke="#3a3a3a" stroke-width="0.6" stroke-linejoin="round"/>
<path d="M109 174.6 L111.3 172.9 L116 175.5 L122.7 180.8 L127.6 185.7 L125.8 187.5 L120.9 183.9 L114.8 179.4 L110.4 177.3Z" fill="#c80000" stroke="#3a3a3a" stroke-width="0.9" stroke-linejoin="round"/>
<path d="M99.9 182.5 L102.5 182.2 L102.8 189.6 L100.2 189.6Z" fill="#8b8b8b" stroke="#3a3a3a" stroke-width="0.9" stroke-linejoin="round"/>
<path d="M111.3 192.6C112.1 191.9 116.5 191.5 117.4 192C118.3 192.6 117.4 195.1 116.5 195.7C115.7 196.3 113 196.2 112.1 195.7C111.3 195.2 110.4 193.2 111.3 192.6Z" fill="#8b8b8b" stroke="#3a3a3a" stroke-width="0.9" stroke-linejoin="round"/>
<path d="M137.6 200.5 L144.6 200.8" stroke="#5a1010" stroke-width="1.4" fill="none"/>
<path d="M159.6 200.5 L164 199.8" stroke="#5a1010" stroke-width="1.4" fill="none"/>
<path d="M147.3 182.5 L150.8 177.3 L154.3 173.8 L161.3 172.4 L165.7 173.8 L170.1 171.1 L175.4 169.4 L176.6 172 L171.9 174.6 L175.4 178.2 L180.6 180.8 L182.8 183.4 L177.1 185.4 L168.3 185.4 L161.3 184.5 L154.3 185.4 L149 185.4Z" fill="#c00000" stroke="#3a3a3a" stroke-width="0.9" stroke-linejoin="round"/>
<path d="M151.7 177.3C151.8 176.2 153.6 174.5 155.2 173.8C156.8 173.1 160 172.6 161.3 173.1C162.6 173.5 163.2 175.3 163.1 176.4C162.9 177.4 161.9 178.7 160.4 179.4C159 180.1 155.8 180.8 154.3 180.4C152.8 180.1 151.5 178.4 151.7 177.3Z" fill="#800000"/>
<path d="M170.1 179.4C170.5 178.4 173.6 178.3 175.4 178.7C177.2 179.1 180.3 180.7 181 181.7C181.7 182.6 181.1 183.9 179.8 184.3C178.4 184.7 174.3 185.1 172.7 184.3C171.1 183.5 169.7 180.3 170.1 179.4Z" fill="#ff4500"/>
<path d="M149.9 181.7C151.2 181.6 155.3 181.5 157.8 181.1C160.3 180.8 162.6 180 164.8 179.4C167 178.7 169.2 177.3 171 177.3C172.7 177.2 174.6 178.7 175.4 179" fill="none" stroke="#c99" stroke-width="0.9" stroke-linejoin="round"/>
<path d="M195.6 175.5 L198.2 171.1 L205.2 169.4 L212.3 170.2 L214 173.8 L208.7 175.5 L208.7 179.9 L213.1 184.3 L214.9 189.6 L213.1 194.8 L207 195.9 L202.6 193.1 L203.5 186.1 L200.8 180.8 L197.3 179Z" fill="#800000" stroke="#3a3a3a" stroke-width="0.9" stroke-linejoin="round"/>
<path d="M224.5 175.5C224.9 174.1 226.5 172 228.1 171.1C229.6 170.2 232.6 169.7 233.7 170.2C234.7 170.8 234.9 173.2 234.4 174.6C233.9 176.1 232.1 178.2 230.7 179C229.3 179.8 227 180 226 179.4C224.9 178.8 224.2 176.9 224.5 175.5Z" fill="#ffffff" stroke="#3a3a3a" stroke-width="0.9" stroke-linejoin="round"/>
<path d="M262.5 172 L270 170.5 L277.5 170.5 L277.5 172 L270 172.5 L263.8 174Z" fill="#8b8b8b" stroke="#3a3a3a" stroke-width="0.9" stroke-linejoin="round"/>
<path d="M134.1 124.6 L139.4 123.7 L140.2 126.3 L135.9 129 L133.2 133.4 L135 137.8 L147.3 136.5 L147.6 137.9 L137.6 140.4 L135.9 143 L132.3 146.5 L128.8 150.9 L122.7 152 L116.5 150.2 L112.1 152 L107.8 151.1 L105.1 148.5 L107.8 147.4 L113 146.5 L118.3 144.8 L121.8 141.3 L122.3 135.1 L124.4 130.7 L128.8 128.1 L131.5 125.5Z" fill="#800000" stroke="#3a3a3a" stroke-width="0.9" stroke-linejoin="round"/>
<path d="M93.7 143 L98.1 140.4 L104.2 140 L107.8 143 L106.4 146.5 L103.4 148.8 L99.9 146 L96.3 146Z" fill="#c00000" stroke="#3a3a3a" stroke-width="0.9" stroke-linejoin="round"/>
<path d="M155.7 134.6C156.2 133.9 159.1 133.5 159.9 133.9C160.8 134.3 161.3 136.2 160.8 136.9C160.3 137.6 157.8 138.3 156.9 137.9C156.1 137.6 155.2 135.3 155.7 134.6Z" fill="#ffffff" stroke="#3a3a3a" stroke-width="0.6" stroke-linejoin="round"/>
<path d="M164.8 131.6C165.5 130.7 169.4 130.1 170.5 130.7C171.5 131.3 172 134.2 171.3 135.1C170.6 136 167.3 136.8 166.2 136.2C165.2 135.6 164.1 132.5 164.8 131.6Z" fill="#8b8b8b" stroke="#3a3a3a" stroke-width="0.8" stroke-linejoin="round"/>
<path d="M160.4 120.7 L168.3 119.7 L179.8 122.5 L178.9 126.3 L171 126.3 L165.7 124.2Z" fill="#8b8b8b" stroke="#3a3a3a" stroke-width="0.6" stroke-linejoin="round"/>
<path d="M167.5 123.7C168.1 123.2 173.5 122.9 175.4 123.2C177.2 123.5 179.1 125.1 178.5 125.6C177.9 126.2 173.7 126.7 171.9 126.3C170 126 166.9 124.2 167.5 123.7Z" fill="#c00000"/>
<path d="M159.5 213 L163 214.5 L165 212.5 L167.5 218.8 L173.8 228 L180 238.8 L186.2 248.8 L190 256.2 L187 259.5 L182 253.8 L176.2 245 L170 235 L165.5 226.2 L162 218.8Z" fill="#ff4500" stroke="#3a3a3a" stroke-width="0.7" stroke-linejoin="round"/>
<path d="M200 213.8 L205 215 L210 221.2 L217.5 222.5 L220 225 L215 227 L208.8 225 L203.8 220Z" fill="#c00000" stroke="#3a3a3a" stroke-width="0.7" stroke-linejoin="round"/>
<path d="M157.5 289.5C158.2 288.5 161.3 287.6 162.5 288C163.7 288.4 164.7 290.8 164.5 292C164.3 293.2 162.3 294.7 161.2 295C160.2 295.3 158.6 294.7 158 293.8C157.4 292.8 156.8 290.5 157.5 289.5Z" fill="#ffffd0" stroke="#3a3a3a" stroke-width="0.7" stroke-linejoin="round"/>
<path d="M151.2 297.5C151.7 298.5 152.9 301.7 153.8 303.8C154.6 305.8 155.8 309 156.2 310" fill="none" stroke="#3a3a3a" stroke-width="1.3"/>
<path d="M164.5 313C164.7 314.1 165 317.5 165.5 319.5C166 321.5 167.2 324.1 167.5 325" fill="none" stroke="#3a3a3a" stroke-width="1.3"/>
<path d="M111.2 253C111.5 252 114.5 251.6 115.5 252C116.5 252.4 117.8 254.5 117.5 255.5C117.2 256.5 114.8 258.4 113.8 258C112.7 257.6 111 254 111.2 253Z" fill="#8b8b8b" stroke="#3a3a3a" stroke-width="0.8" stroke-linejoin="round"/>
<path d="M339.8 157.5 L344.8 152.5 L351 148.8 L354.8 148 L352.2 152.5 L346 157 L341.5 159.5Z" fill="#a0a0a0" stroke="#3a3a3a" stroke-width="0.8" stroke-linejoin="round"/>
<path d="M750.6 167.9 L756.4 166.3 L763.9 165.8 L769.7 167.9 L768.8 170.8 L763 172.4 L756.4 171.3Z" fill="#800000" stroke="#3a3a3a" stroke-width="0.7" stroke-linejoin="round"/>
<path d="M761.7 172.4 L766.3 172.4 L767.2 182.4 L763.9 183.2Z" fill="#c00000" stroke="#3a3a3a" stroke-width="0.7" stroke-linejoin="round"/>
<path d="M768.3 170.8 L774.7 169.6 L782.1 172.4 L783.8 177.4 L778.8 179.1 L773 176.6Z" fill="#800000" stroke="#3a3a3a" stroke-width="0.7" stroke-linejoin="round"/>
<path d="M781.3 179.6 L787.9 178.2 L793.3 178.6 L792.1 181.6 L784.6 182.1Z" fill="#800000" stroke="#3a3a3a" stroke-width="0.7" stroke-linejoin="round"/>
<path d="M791.6 176.9 L797.9 175.9 L800.6 177.6 L797.9 179.6 L792.6 179.2Z" fill="#800000" stroke="#3a3a3a" stroke-width="0.7" stroke-linejoin="round"/>
<path d="M669.5 122 L678.2 120 L687 121.2 L685.8 125 L677 125.5 L670.8 125Z" fill="#8b8b8b" stroke="#3a3a3a" stroke-width="0.8" stroke-linejoin="round"/>
<path d="M689.5 133 L699.5 130 L709.5 130 L708.2 133.8 L699.5 135.5 L692 136.2Z" fill="#a8a8a8" stroke="#3a3a3a" stroke-width="0.8" stroke-linejoin="round"/>
<path d="M704.5 139.5 L713.2 138.8 L713.2 141.2 L705 141.8Z" fill="#8b8b8b" stroke="#3a3a3a" stroke-width="0.8" stroke-linejoin="round"/>
<path d="M724.5 142.5 L728.2 142.5 L727.8 146.5 L725 146.5Z" fill="#8b8b8b" stroke="#3a3a3a" stroke-width="0.8" stroke-linejoin="round"/>
<path d="M731.5 153.8C731.9 152.5 735.2 151.9 737 152.5C738.8 153.1 741.4 156 742 157.5C742.6 159 742 160.8 740.8 161.2C739.5 161.7 736 161.2 734.5 160C733 158.8 731.1 155 731.5 153.8Z" fill="#d0d0d0" stroke="#3a3a3a" stroke-width="0.8" stroke-linejoin="round"/>
<path d="M802 175 L814.5 168.8 L827 165 L837 161.2 L842 163 L835.8 166.2 L824.5 170 L814.5 175Z" fill="#800000" stroke="#3a3a3a" stroke-width="0.7" stroke-linejoin="round"/>
<path d="M673.3 165.3 L750.6 165.3" fill="none" stroke="#444" stroke-width="0.9" stroke-linejoin="round"/>
<path d="M692.4 209.8 L701.5 212.3 L716.5 209.8 L721.5 214 L729.8 215.6 L733.9 219.8 L738.1 223.1" fill="none" stroke="#444" stroke-width="0.9" stroke-linejoin="round"/>
<path d="M673.3 173.3 L689.6 173.3" fill="none" stroke="#444" stroke-width="0.9" stroke-linejoin="round"/>
<path d="M672.5 184.1 L698.2 184.1" fill="none" stroke="#444" stroke-width="0.9" stroke-linejoin="round"/>
<path d="M690.7 165.3 L690.7 172.4 L693.2 176.6 L698.2 184.1" fill="none" stroke="#444" stroke-width="0.9" stroke-linejoin="round"/>
<path d="M690.7 165.3 L693.2 170.8 L699 176.3 L705.2 175.8" fill="none" stroke="#444" stroke-width="0.9" stroke-linejoin="round"/>
<path d="M705.2 175.8 L722.3 175.3" fill="none" stroke="#444" stroke-width="0.9" stroke-linejoin="round"/>
<path d="M722.3 165.3 L722.3 180.9" fill="none" stroke="#444" stroke-width="0.9" stroke-linejoin="round"/>
<path d="M697.4 184.1 L697.4 204.8" fill="none" stroke="#444" stroke-width="0.9" stroke-linejoin="round"/>
<path d="M709.9 185.7 L709.9 209" fill="none" stroke="#444" stroke-width="0.9" stroke-linejoin="round"/>
<path d="M682.4 184.1 L682.4 191.5 L695.7 199.9" fill="none" stroke="#444" stroke-width="0.9" stroke-linejoin="round"/>
<path d="M696.6 195.7 L746.4 194.9" fill="none" stroke="#444" stroke-width="0.9" stroke-linejoin="round"/>
<path d="M705.7 175.8 L705.7 185.7 L727.3 185.7" fill="none" stroke="#444" stroke-width="0.9" stroke-linejoin="round"/>
<path d="M727.3 185.7 L727.3 194.9" fill="none" stroke="#444" stroke-width="0.9" stroke-linejoin="round"/>
<path d="M722.3 173.3 L741.4 173.3" fill="none" stroke="#444" stroke-width="0.9" stroke-linejoin="round"/>
<path d="M722.3 180.9 L743.1 181.6" fill="none" stroke="#444" stroke-width="0.9" stroke-linejoin="round"/>
<path d="M727.3 189 L746.4 189" fill="none" stroke="#444" stroke-width="0.9" stroke-linejoin="round"/>
<path d="M741.4 165.3 L741.4 173.3 L743.1 181.6 L746.4 189 L746.4 199.9" fill="none" stroke="#444" stroke-width="0.9" stroke-linejoin="round"/>
<path d="M725.6 194.9 L725.6 198.2 L733.1 198.2 L733.1 203.2 L739.8 204.5 L746.4 204.8" fill="none" stroke="#444" stroke-width="0.9" stroke-linejoin="round"/>
<path d="M725.6 198.2 L725.6 208.5 L716.5 209.3" fill="none" stroke="#444" stroke-width="0.9" stroke-linejoin="round"/>
<path d="M746.4 199.9 L758.4 199.9" fill="none" stroke="#444" stroke-width="0.9" stroke-linejoin="round"/>
<path d="M748.1 206.5 L758.4 206.5" fill="none" stroke="#444" stroke-width="0.9" stroke-linejoin="round"/>
<path d="M748.1 206.5 L748.9 214" fill="none" stroke="#444" stroke-width="0.9" stroke-linejoin="round"/>
<path d="M753.1 166.6 L751.4 174.9 L756.4 181.6 L759.7 188.2 L763 194.5 L759.7 199.9 L758 206.5 L759.7 214" fill="none" stroke="#444" stroke-width="0.9" stroke-linejoin="round"/>
<path d="M743.1 181.6 L756.4 181.6" fill="none" stroke="#444" stroke-width="0.9" stroke-linejoin="round"/>
<path d="M746.4 189 L759.7 188.6" fill="none" stroke="#444" stroke-width="0.9" stroke-linejoin="round"/>
<path d="M764.7 181.6 L764.7 192.4" fill="none" stroke="#444" stroke-width="0.9" stroke-linejoin="round"/>
<path d="M771.3 182.4 L771.3 190.7" fill="none" stroke="#444" stroke-width="0.9" stroke-linejoin="round"/>
<path d="M759.7 196.2 L766.3 193.5 L774.7 190.2 L779.6 185.7" fill="none" stroke="#444" stroke-width="0.9" stroke-linejoin="round"/>
<path d="M759.7 197.7 L786.3 195.2" fill="none" stroke="#444" stroke-width="0.9" stroke-linejoin="round"/>
<path d="M758.4 201.8 L783 199.9" fill="none" stroke="#444" stroke-width="0.9" stroke-linejoin="round"/>
<path d="M763 201.8 L763.9 214" fill="none" stroke="#444" stroke-width="0.9" stroke-linejoin="round"/>
<path d="M769.7 200.7 L771.3 213.1" fill="none" stroke="#444" stroke-width="0.9" stroke-linejoin="round"/>
<path d="M776.3 199.9 L784.6 207.3" fill="none" stroke="#444" stroke-width="0.9" stroke-linejoin="round"/>
<path d="M779.6 199.2 L789.9 199.9" fill="none" stroke="#444" stroke-width="0.9" stroke-linejoin="round"/>
<path d="M776.3 194.5 L794.6 193.5" fill="none" stroke="#444" stroke-width="0.9" stroke-linejoin="round"/>
<path d="M779.6 185.7 L792.9 185.7" fill="none" stroke="#444" stroke-width="0.9" stroke-linejoin="round"/>
<path d="M780.5 180.7 L792.9 179.9" fill="none" stroke="#444" stroke-width="0.9" stroke-linejoin="round"/>
<path d="M756.4 181.6 L763 180.7 L766.3 181.6" fill="none" stroke="#444" stroke-width="0.9" stroke-linejoin="round"/>
<path d="M792.9 179.9 L793.8 185.7" fill="none" stroke="#444" stroke-width="0.9" stroke-linejoin="round"/>
<path d="M799.6 178.2 L800.4 184.1" fill="none" stroke="#444" stroke-width="0.9" stroke-linejoin="round"/>
<path d="M804.6 174.9 L806.2 180.7" fill="none" stroke="#444" stroke-width="0.9" stroke-linejoin="round"/>
<path d="M809.6 172.4 L812 177.4" fill="none" stroke="#444" stroke-width="0.9" stroke-linejoin="round"/>
<path d="M774.7 190.2 L776.3 194.5" fill="none" stroke="#444" stroke-width="0.9" stroke-linejoin="round"/>
<path d="M786.3 195.2 L792.9 191.5" fill="none" stroke="#444" stroke-width="0.9" stroke-linejoin="round"/></g></g>
<rect x="78.3" y="64.6" width="906.0" height="443.6" fill="none" stroke="#444" stroke-width="2"/>
<g fill="none"><path d="M78.3 65 v-15 M78.3 508 v15" stroke-width="2" stroke="#3c3c3c"/><path d="M103.5 65 v-7 M103.5 508 v7" stroke-width="1" stroke="#777"/><path d="M128.6 65 v-7 M128.6 508 v7" stroke-width="1" stroke="#777"/><path d="M153.8 65 v-15 M153.8 508 v15" stroke-width="2" stroke="#3c3c3c"/><path d="M179.0 65 v-7 M179.0 508 v7" stroke-width="1" stroke="#777"/><path d="M204.1 65 v-7 M204.1 508 v7" stroke-width="1" stroke="#777"/><path d="M229.3 65 v-15 M229.3 508 v15" stroke-width="2" stroke="#3c3c3c"/><path d="M254.5 65 v-7 M254.5 508 v7" stroke-width="1" stroke="#777"/><path d="M279.6 65 v-7 M279.6 508 v7" stroke-width="1" stroke="#777"/><path d="M304.8 65 v-15 M304.8 508 v15" stroke-width="2" stroke="#3c3c3c"/><path d="M330.0 65 v-7 M330.0 508 v7" stroke-width="1" stroke="#777"/><path d="M355.1 65 v-7 M355.1 508 v7" stroke-width="1" stroke="#777"/><path d="M380.3 65 v-15 M380.3 508 v15" stroke-width="2" stroke="#3c3c3c"/><path d="M405.5 65 v-7 M405.5 508 v7" stroke-width="1" stroke="#777"/><path d="M430.6 65 v-7 M430.6 508 v7" stroke-width="1" stroke="#777"/><path d="M455.8 65 v-15 M455.8 508 v15" stroke-width="2" stroke="#3c3c3c"/><path d="M481.0 65 v-7 M481.0 508 v7" stroke-width="1" stroke="#777"/><path d="M506.1 65 v-7 M506.1 508 v7" stroke-width="1" stroke="#777"/><path d="M531.3 65 v-15 M531.3 508 v15" stroke-width="2" stroke="#3c3c3c"/><path d="M556.5 65 v-7 M556.5 508 v7" stroke-width="1" stroke="#777"/><path d="M581.6 65 v-7 M581.6 508 v7" stroke-width="1" stroke="#777"/><path d="M606.8 65 v-15 M606.8 508 v15" stroke-width="2" stroke="#3c3c3c"/><path d="M632.0 65 v-7 M632.0 508 v7" stroke-width="1" stroke="#777"/><path d="M657.1 65 v-7 M657.1 508 v7" stroke-width="1" stroke="#777"/><path d="M682.3 65 v-15 M682.3 508 v15" stroke-width="2" stroke="#3c3c3c"/><path d="M707.5 65 v-7 M707.5 508 v7" stroke-width="1" stroke="#777"/><path d="M732.6 65 v-7 M732.6 508 v7" stroke-width="1" stroke="#777"/><path d="M757.8 65 v-15 M757.8 508 v15" stroke-width="2" stroke="#3c3c3c"/><path d="M783.0 65 v-7 M783.0 508 v7" stroke-width="1" stroke="#777"/><path d="M808.1 65 v-7 M808.1 508 v7" stroke-width="1" stroke="#777"/><path d="M833.3 65 v-15 M833.3 508 v15" stroke-width="2" stroke="#3c3c3c"/><path d="M858.5 65 v-7 M858.5 508 v7" stroke-width="1" stroke="#777"/><path d="M883.6 65 v-7 M883.6 508 v7" stroke-width="1" stroke="#777"/><path d="M908.8 65 v-15 M908.8 508 v15" stroke-width="2" stroke="#3c3c3c"/><path d="M934.0 65 v-7 M934.0 508 v7" stroke-width="1" stroke="#777"/><path d="M959.1 65 v-7 M959.1 508 v7" stroke-width="1" stroke="#777"/><path d="M984.3 65 v-15 M984.3 508 v15" stroke-width="2" stroke="#3c3c3c"/><path d="M78 489.6 h-8 M984 489.6 h8" stroke-width="1" stroke="#888"/><path d="M78 464.5 h-8 M984 464.5 h8" stroke-width="1" stroke="#888"/><path d="M78 439.3 h-15 M984 439.3 h15" stroke-width="2" stroke="#3c3c3c"/><path d="M78 414.1 h-8 M984 414.1 h8" stroke-width="1" stroke="#888"/><path d="M78 389.0 h-8 M984 389.0 h8" stroke-width="1" stroke="#888"/><path d="M78 363.8 h-15 M984 363.8 h15" stroke-width="2" stroke="#3c3c3c"/><path d="M78 338.6 h-8 M984 338.6 h8" stroke-width="1" stroke="#888"/><path d="M78 313.5 h-8 M984 313.5 h8" stroke-width="1" stroke="#888"/><path d="M78 288.3 h-15 M984 288.3 h15" stroke-width="2" stroke="#3c3c3c"/><path d="M78 263.1 h-8 M984 263.1 h8" stroke-width="1" stroke="#888"/><path d="M78 238.0 h-8 M984 238.0 h8" stroke-width="1" stroke="#888"/><path d="M78 212.8 h-15 M984 212.8 h15" stroke-width="2" stroke="#3c3c3c"/><path d="M78 187.6 h-8 M984 187.6 h8" stroke-width="1" stroke="#888"/><path d="M78 162.5 h-8 M984 162.5 h8" stroke-width="1" stroke="#888"/><path d="M78 137.3 h-15 M984 137.3 h15" stroke-width="2" stroke="#3c3c3c"/><path d="M78 112.1 h-8 M984 112.1 h8" stroke-width="1" stroke="#888"/><path d="M78 87.0 h-8 M984 87.0 h8" stroke-width="1" stroke="#888"/></g>
<g font-family="Liberation Sans, sans-serif" fill="#1e1e1e" stroke="#1e1e1e" stroke-width="0.3" filter="url(#bt)">
<text transform="translate(77.5,37.6) scale(1.108,1)" font-size="18.3" text-anchor="start">CMIP5 ENSMN RCP8.5 anomaly (2050-2099)-(1956-2005)</text>
<text transform="translate(969.0,42.3) scale(1.100,1)" font-size="20.5" text-anchor="start">C</text>
<text transform="translate(48.5,145.2) scale(1.110,1)" font-size="21.6" text-anchor="end">60N</text>
<text transform="translate(48.5,220.7) scale(1.110,1)" font-size="21.6" text-anchor="end">30N</text>
<text transform="translate(48.5,296.2) scale(1.110,1)" font-size="21.6" text-anchor="end">0</text>
<text transform="translate(48.5,371.7) scale(1.110,1)" font-size="21.6" text-anchor="end">30S</text>
<text transform="translate(48.5,447.2) scale(1.110,1)" font-size="21.6" text-anchor="end">60S</text>
<text transform="translate(78.5,558.0) scale(1.090,1)" font-size="21.6" text-anchor="middle">0</text>
<text transform="translate(154.0,558.0) scale(1.090,1)" font-size="21.6" text-anchor="middle">30E</text>
<text transform="translate(229.5,558.0) scale(1.090,1)" font-size="21.6" text-anchor="middle">60E</text>
<text transform="translate(305.0,558.0) scale(1.090,1)" font-size="21.6" text-anchor="middle">90E</text>
<text transform="translate(380.5,558.0) scale(1.090,1)" font-size="21.6" text-anchor="middle">120E</text>
<text transform="translate(456.0,558.0) scale(1.090,1)" font-size="21.6" text-anchor="middle">150E</text>
<text transform="translate(531.5,558.0) scale(1.090,1)" font-size="21.6" text-anchor="middle">180</text>
<text transform="translate(607.0,558.0) scale(1.090,1)" font-size="21.6" text-anchor="middle">150W</text>
<text transform="translate(682.5,558.0) scale(1.090,1)" font-size="21.6" text-anchor="middle">120W</text>
<text transform="translate(758.0,558.0) scale(1.090,1)" font-size="21.6" text-anchor="middle">90W</text>
<text transform="translate(833.5,558.0) scale(1.090,1)" font-size="21.6" text-anchor="middle">60W</text>
<text transform="translate(909.0,558.0) scale(1.090,1)" font-size="21.6" text-anchor="middle">30W</text>
<text transform="translate(984.5,558.0) scale(1.090,1)" font-size="21.6" text-anchor="middle">0</text>
<text transform="translate(235.5,662.3) scale(1.100,1)" font-size="21" text-anchor="middle">-3.2</text>
<text transform="translate(309.5,662.3) scale(1.100,1)" font-size="21" text-anchor="middle">-2.4</text>
<text transform="translate(383.5,662.3) scale(1.100,1)" font-size="21" text-anchor="middle">-1.6</text>
<text transform="translate(457.5,662.3) scale(1.100,1)" font-size="21" text-anchor="middle">-0.8</text>
<text transform="translate(531.5,662.3) scale(1.100,1)" font-size="21" text-anchor="middle">0</text>
<text transform="translate(605.5,662.3) scale(1.100,1)" font-size="21" text-anchor="middle">0.8</text>
<text transform="translate(679.5,662.3) scale(1.100,1)" font-size="21" text-anchor="middle">1.6</text>
<text transform="translate(753.5,662.3) scale(1.100,1)" font-size="21" text-anchor="middle">2.4</text>
<text transform="translate(827.5,662.3) scale(1.100,1)" font-size="21" text-anchor="middle">3.2</text>
</g>
<rect x="198" y="595" width="37" height="39" fill="#00007f" stroke="#555" stroke-width="0.8"/>
<rect x="235" y="595" width="37" height="39" fill="#0000b8" stroke="#555" stroke-width="0.8"/>
<rect x="272" y="595" width="37" height="39" fill="#1040ff" stroke="#555" stroke-width="0.8"/>
<rect x="309" y="595" width="37" height="39" fill="#1060ff" stroke="#555" stroke-width="0.8"/>
<rect x="346" y="595" width="37" height="39" fill="#0a84ff" stroke="#555" stroke-width="0.8"/>
<rect x="383" y="595" width="37" height="39" fill="#0cbeff" stroke="#555" stroke-width="0.8"/>
<rect x="420" y="595" width="37" height="39" fill="#0cdcff" stroke="#555" stroke-width="0.8"/>
<rect x="457" y="595" width="37" height="39" fill="#99ffff" stroke="#555" stroke-width="0.8"/>
<rect x="494" y="595" width="37" height="39" fill="#ffffff" stroke="#555" stroke-width="0.8"/>
<rect x="531" y="595" width="37" height="39" fill="#ffffff" stroke="#555" stroke-width="0.8"/>
<rect x="568" y="595" width="37" height="39" fill="#ffff8c" stroke="#555" stroke-width="0.8"/>
<rect x="605" y="595" width="37" height="39" fill="#ffdc00" stroke="#555" stroke-width="0.8"/>
<rect x="642" y="595" width="37" height="39" fill="#ffb400" stroke="#555" stroke-width="0.8"/>
<rect x="679" y="595" width="37" height="39" fill="#ff8200" stroke="#555" stroke-width="0.8"/>
<rect x="716" y="595" width="37" height="39" fill="#ff6a0a" stroke="#555" stroke-width="0.8"/>
<rect x="753" y="595" width="37" height="39" fill="#ff4500" stroke="#555" stroke-width="0.8"/>
<rect x="790" y="595" width="37" height="39" fill="#c00000" stroke="#555" stroke-width="0.8"/>
<rect x="827" y="595" width="37" height="39" fill="#800000" stroke="#555" stroke-width="0.8"/>
</svg></body></html>
